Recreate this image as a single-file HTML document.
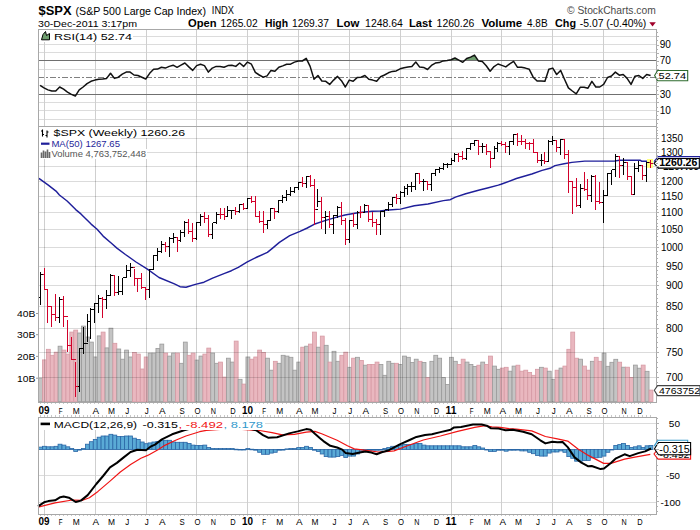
<!DOCTYPE html>
<html><head><meta charset="utf-8"><style>html,body{margin:0;padding:0;background:#fff;}svg{display:block;}</style></head><body>
<svg width="700" height="530" viewBox="0 0 700 530" font-family='"Liberation Sans", sans-serif'>
<rect x="0" y="0" width="700" height="530" fill="#fff"/>
<text x="38.5" y="15" font-size="13" font-weight="bold" fill="#000" text-anchor="start" textLength="33" lengthAdjust="spacingAndGlyphs">$SPX</text>
<text x="75.5" y="15" font-size="11" font-weight="normal" fill="#000" text-anchor="start" textLength="130.5" lengthAdjust="spacingAndGlyphs">(S&amp;P 500 Large Cap Index)</text>
<text x="211.8" y="13.8" font-size="10" font-weight="normal" fill="#000" text-anchor="start" textLength="22.2" lengthAdjust="spacingAndGlyphs">INDX</text>
<text x="38" y="27.2" font-size="9.6" font-weight="normal" fill="#000" text-anchor="start" textLength="99" lengthAdjust="spacingAndGlyphs">30-Dec-2011 3:17pm</text>
<text x="188" y="26.6" font-size="11" font-weight="bold" fill="#000" text-anchor="start" textLength="28.6" lengthAdjust="spacingAndGlyphs">Open</text>
<text x="220.6" y="26.5" font-size="10" font-weight="normal" fill="#000" text-anchor="start" textLength="37" lengthAdjust="spacingAndGlyphs">1265.02</text>
<text x="264.9" y="26.6" font-size="11" font-weight="bold" fill="#000" text-anchor="start" textLength="23.1" lengthAdjust="spacingAndGlyphs">High</text>
<text x="292" y="26.5" font-size="10" font-weight="normal" fill="#000" text-anchor="start" textLength="37" lengthAdjust="spacingAndGlyphs">1269.37</text>
<text x="336.6" y="26.6" font-size="11" font-weight="bold" fill="#000" text-anchor="start" textLength="22.8" lengthAdjust="spacingAndGlyphs">Low</text>
<text x="365.1" y="26.5" font-size="10" font-weight="normal" fill="#000" text-anchor="start" textLength="37.8" lengthAdjust="spacingAndGlyphs">1248.64</text>
<text x="409" y="26.6" font-size="11" font-weight="bold" fill="#000" text-anchor="start" textLength="23" lengthAdjust="spacingAndGlyphs">Last</text>
<text x="436.6" y="26.5" font-size="10" font-weight="normal" fill="#000" text-anchor="start" textLength="37.7" lengthAdjust="spacingAndGlyphs">1260.26</text>
<text x="481.4" y="26.6" font-size="11" font-weight="bold" fill="#000" text-anchor="start" textLength="40.9" lengthAdjust="spacingAndGlyphs">Volume</text>
<text x="527" y="26.5" font-size="10" font-weight="normal" fill="#000" text-anchor="start" textLength="20.6" lengthAdjust="spacingAndGlyphs">4.8B</text>
<text x="555" y="26.6" font-size="11" font-weight="bold" fill="#000" text-anchor="start" textLength="21" lengthAdjust="spacingAndGlyphs">Chg</text>
<text x="579.8" y="26.5" font-size="10" font-weight="normal" fill="#000" text-anchor="start" textLength="66.4" lengthAdjust="spacingAndGlyphs">-5.07 (-0.40%)</text>
<polygon points="649.3,22.2 655.8,22.2 652.55,26.4" fill="#A0002A"/>
<text x="567" y="14" font-size="10.5" font-weight="normal" fill="#4a4a4a" text-anchor="start" textLength="88.7" lengthAdjust="spacingAndGlyphs">© StockCharts.com</text>
<g shape-rendering="crispEdges">
<line x1="38" y1="36.5" x2="656" y2="36.5" stroke="#dcdcdc"/>
<line x1="38" y1="44.5" x2="656" y2="44.5" stroke="#dcdcdc"/>
<line x1="38" y1="52.5" x2="656" y2="52.5" stroke="#dcdcdc"/>
<line x1="38" y1="69.5" x2="656" y2="69.5" stroke="#dcdcdc"/>
<line x1="38" y1="85.5" x2="656" y2="85.5" stroke="#dcdcdc"/>
<line x1="38" y1="102.5" x2="656" y2="102.5" stroke="#dcdcdc"/>
<line x1="38" y1="110.5" x2="656" y2="110.5" stroke="#dcdcdc"/>
<line x1="38" y1="119.5" x2="656" y2="119.5" stroke="#dcdcdc"/>
<line x1="44.5" y1="29" x2="44.5" y2="126" stroke="#cfcfcf" stroke-width="1"/>
<line x1="95.5" y1="29" x2="95.5" y2="126" stroke="#cfcfcf" stroke-width="1"/>
<line x1="146.5" y1="29" x2="146.5" y2="126" stroke="#cfcfcf" stroke-width="1"/>
<line x1="196.5" y1="29" x2="196.5" y2="126" stroke="#cfcfcf" stroke-width="1"/>
<line x1="247.5" y1="29" x2="247.5" y2="126" stroke="#cfcfcf" stroke-width="1"/>
<line x1="298.5" y1="29" x2="298.5" y2="126" stroke="#cfcfcf" stroke-width="1"/>
<line x1="349.5" y1="29" x2="349.5" y2="126" stroke="#cfcfcf" stroke-width="1"/>
<line x1="400.5" y1="29" x2="400.5" y2="126" stroke="#cfcfcf" stroke-width="1"/>
<line x1="451.5" y1="29" x2="451.5" y2="126" stroke="#cfcfcf" stroke-width="1"/>
<line x1="501.5" y1="29" x2="501.5" y2="126" stroke="#cfcfcf" stroke-width="1"/>
<line x1="552.5" y1="29" x2="552.5" y2="126" stroke="#cfcfcf" stroke-width="1"/>
<line x1="603.5" y1="29" x2="603.5" y2="126" stroke="#cfcfcf" stroke-width="1"/>
<line x1="38" y1="60.5" x2="656" y2="60.5" stroke="#707070"/>
<line x1="38" y1="94.5" x2="656" y2="94.5" stroke="#707070"/>
<line x1="38" y1="77.5" x2="656" y2="77.5" stroke="#808080" stroke-dasharray="6,2,2,2"/>
</g>
<clipPath id="above70"><rect x="38" y="29" width="618" height="31"/></clipPath>
<polygon clip-path="url(#above70)" points="40.09,60.5 40.09,85.30 44.00,87.90 47.92,89.90 51.83,91.00 55.74,91.00 59.66,87.00 63.57,89.20 67.48,92.10 71.40,94.40 75.31,96.10 79.22,89.90 83.14,87.00 87.05,83.60 90.97,81.30 94.88,80.10 98.79,79.30 102.71,79.00 106.62,78.40 110.53,73.30 114.45,78.40 118.36,77.20 122.27,74.10 126.19,72.10 130.10,72.10 134.01,75.00 137.93,75.50 141.84,77.20 145.75,79.00 149.67,73.30 153.58,69.30 157.50,69.10 161.41,67.30 165.32,68.10 169.24,66.40 173.15,65.20 177.06,67.30 180.98,65.20 184.89,63.00 188.80,66.90 192.72,70.40 196.63,65.60 200.54,64.20 204.46,65.60 208.37,72.10 212.28,68.10 216.20,66.40 220.11,66.40 224.02,67.30 227.94,65.60 231.85,65.20 235.77,66.40 239.68,63.00 243.59,66.40 247.51,62.10 251.42,64.20 255.33,72.40 259.25,75.00 263.16,77.20 267.07,75.90 270.99,70.40 274.90,71.30 278.81,67.30 282.73,65.90 286.64,64.20 290.55,64.20 294.47,62.10 298.38,61.00 302.29,61.00 306.21,58.40 310.12,66.40 314.03,79.30 317.95,75.50 321.86,81.00 325.78,81.30 329.69,84.40 333.60,80.10 337.52,76.40 341.43,80.70 345.34,87.00 349.26,80.10 353.17,81.30 357.08,77.60 361.00,77.20 364.91,75.50 368.82,79.30 372.74,80.10 376.65,81.30 380.56,76.70 384.48,75.00 388.39,72.80 392.30,71.40 396.22,70.90 400.13,68.80 404.05,67.80 407.96,67.10 411.87,66.60 415.79,62.00 419.70,67.10 423.61,67.40 427.53,69.50 431.44,65.40 435.35,63.10 439.27,62.60 443.18,60.90 447.09,60.60 451.01,59.70 454.92,58.00 458.83,60.20 462.75,62.30 466.66,58.50 470.58,57.10 474.49,55.10 478.40,60.90 482.32,61.40 486.23,65.70 490.14,71.20 494.06,66.60 497.97,64.00 501.88,65.40 505.80,66.90 509.71,63.90 513.62,61.30 517.54,67.30 521.45,67.30 525.36,68.10 529.28,69.30 533.19,77.20 537.10,81.00 541.02,81.00 544.93,81.30 548.85,69.30 552.76,68.10 556.67,74.50 560.59,70.40 564.50,79.30 568.41,87.90 572.33,91.00 576.24,93.90 580.15,87.30 584.07,87.20 587.98,88.20 591.89,81.30 595.81,87.00 599.72,87.00 603.63,84.40 607.55,77.50 611.46,76.00 615.37,72.10 619.29,75.20 623.20,74.50 627.12,78.40 631.03,84.40 634.94,76.20 638.86,75.50 642.77,78.40 646.68,74.50 650.60,75.50 650.60,60.5" fill="#6f9f6f"/>
<polyline points="40.09,85.30 44.00,87.90 47.92,89.90 51.83,91.00 55.74,91.00 59.66,87.00 63.57,89.20 67.48,92.10 71.40,94.40 75.31,96.10 79.22,89.90 83.14,87.00 87.05,83.60 90.97,81.30 94.88,80.10 98.79,79.30 102.71,79.00 106.62,78.40 110.53,73.30 114.45,78.40 118.36,77.20 122.27,74.10 126.19,72.10 130.10,72.10 134.01,75.00 137.93,75.50 141.84,77.20 145.75,79.00 149.67,73.30 153.58,69.30 157.50,69.10 161.41,67.30 165.32,68.10 169.24,66.40 173.15,65.20 177.06,67.30 180.98,65.20 184.89,63.00 188.80,66.90 192.72,70.40 196.63,65.60 200.54,64.20 204.46,65.60 208.37,72.10 212.28,68.10 216.20,66.40 220.11,66.40 224.02,67.30 227.94,65.60 231.85,65.20 235.77,66.40 239.68,63.00 243.59,66.40 247.51,62.10 251.42,64.20 255.33,72.40 259.25,75.00 263.16,77.20 267.07,75.90 270.99,70.40 274.90,71.30 278.81,67.30 282.73,65.90 286.64,64.20 290.55,64.20 294.47,62.10 298.38,61.00 302.29,61.00 306.21,58.40 310.12,66.40 314.03,79.30 317.95,75.50 321.86,81.00 325.78,81.30 329.69,84.40 333.60,80.10 337.52,76.40 341.43,80.70 345.34,87.00 349.26,80.10 353.17,81.30 357.08,77.60 361.00,77.20 364.91,75.50 368.82,79.30 372.74,80.10 376.65,81.30 380.56,76.70 384.48,75.00 388.39,72.80 392.30,71.40 396.22,70.90 400.13,68.80 404.05,67.80 407.96,67.10 411.87,66.60 415.79,62.00 419.70,67.10 423.61,67.40 427.53,69.50 431.44,65.40 435.35,63.10 439.27,62.60 443.18,60.90 447.09,60.60 451.01,59.70 454.92,58.00 458.83,60.20 462.75,62.30 466.66,58.50 470.58,57.10 474.49,55.10 478.40,60.90 482.32,61.40 486.23,65.70 490.14,71.20 494.06,66.60 497.97,64.00 501.88,65.40 505.80,66.90 509.71,63.90 513.62,61.30 517.54,67.30 521.45,67.30 525.36,68.10 529.28,69.30 533.19,77.20 537.10,81.00 541.02,81.00 544.93,81.30 548.85,69.30 552.76,68.10 556.67,74.50 560.59,70.40 564.50,79.30 568.41,87.90 572.33,91.00 576.24,93.90 580.15,87.30 584.07,87.20 587.98,88.20 591.89,81.30 595.81,87.00 599.72,87.00 603.63,84.40 607.55,77.50 611.46,76.00 615.37,72.10 619.29,75.20 623.20,74.50 627.12,78.40 631.03,84.40 634.94,76.20 638.86,75.50 642.77,78.40 646.68,74.50 650.60,75.50" fill="none" stroke="#111" stroke-width="1.5" stroke-linejoin="round"/>
<g>
<rect x="38.54" y="378.10" width="3.9" height="23.40" fill="#c4c4c4" stroke="#9a9a9a" stroke-width="0.8"/>
<rect x="42.45" y="359.90" width="3.9" height="41.60" fill="#e9b7bf" stroke="#d69aa4" stroke-width="0.8"/>
<rect x="46.37" y="349.30" width="3.9" height="52.20" fill="#e9b7bf" stroke="#d69aa4" stroke-width="0.8"/>
<rect x="50.28" y="355.30" width="3.9" height="46.20" fill="#e9b7bf" stroke="#d69aa4" stroke-width="0.8"/>
<rect x="54.19" y="352.20" width="3.9" height="49.30" fill="#e9b7bf" stroke="#d69aa4" stroke-width="0.8"/>
<rect x="58.11" y="346.20" width="3.9" height="55.30" fill="#c4c4c4" stroke="#9a9a9a" stroke-width="0.8"/>
<rect x="62.02" y="350.10" width="3.9" height="51.40" fill="#e9b7bf" stroke="#d69aa4" stroke-width="0.8"/>
<rect x="65.93" y="354.10" width="3.9" height="47.40" fill="#e9b7bf" stroke="#d69aa4" stroke-width="0.8"/>
<rect x="69.85" y="332.10" width="3.9" height="69.40" fill="#e9b7bf" stroke="#d69aa4" stroke-width="0.8"/>
<rect x="73.76" y="330.10" width="3.9" height="71.40" fill="#e9b7bf" stroke="#d69aa4" stroke-width="0.8"/>
<rect x="77.67" y="333.00" width="3.9" height="68.50" fill="#c4c4c4" stroke="#9a9a9a" stroke-width="0.8"/>
<rect x="81.59" y="326.10" width="3.9" height="75.40" fill="#c4c4c4" stroke="#9a9a9a" stroke-width="0.8"/>
<rect x="85.50" y="337.00" width="3.9" height="64.50" fill="#c4c4c4" stroke="#9a9a9a" stroke-width="0.8"/>
<rect x="89.42" y="342.10" width="3.9" height="59.40" fill="#c4c4c4" stroke="#9a9a9a" stroke-width="0.8"/>
<rect x="93.33" y="357.00" width="3.9" height="44.50" fill="#c4c4c4" stroke="#9a9a9a" stroke-width="0.8"/>
<rect x="97.24" y="335.90" width="3.9" height="65.60" fill="#c4c4c4" stroke="#9a9a9a" stroke-width="0.8"/>
<rect x="101.16" y="332.10" width="3.9" height="69.40" fill="#e9b7bf" stroke="#d69aa4" stroke-width="0.8"/>
<rect x="105.07" y="347.90" width="3.9" height="53.60" fill="#c4c4c4" stroke="#9a9a9a" stroke-width="0.8"/>
<rect x="108.98" y="328.20" width="3.9" height="73.30" fill="#c4c4c4" stroke="#9a9a9a" stroke-width="0.8"/>
<rect x="112.90" y="343.30" width="3.9" height="58.20" fill="#e9b7bf" stroke="#d69aa4" stroke-width="0.8"/>
<rect x="116.81" y="349.00" width="3.9" height="52.50" fill="#c4c4c4" stroke="#9a9a9a" stroke-width="0.8"/>
<rect x="120.72" y="359.20" width="3.9" height="42.30" fill="#c4c4c4" stroke="#9a9a9a" stroke-width="0.8"/>
<rect x="124.64" y="350.10" width="3.9" height="51.40" fill="#c4c4c4" stroke="#9a9a9a" stroke-width="0.8"/>
<rect x="128.55" y="357.00" width="3.9" height="44.50" fill="#c4c4c4" stroke="#9a9a9a" stroke-width="0.8"/>
<rect x="132.46" y="352.40" width="3.9" height="49.10" fill="#e9b7bf" stroke="#d69aa4" stroke-width="0.8"/>
<rect x="136.38" y="354.10" width="3.9" height="47.40" fill="#e9b7bf" stroke="#d69aa4" stroke-width="0.8"/>
<rect x="140.29" y="369.00" width="3.9" height="32.50" fill="#e9b7bf" stroke="#d69aa4" stroke-width="0.8"/>
<rect x="144.20" y="357.00" width="3.9" height="44.50" fill="#e9b7bf" stroke="#d69aa4" stroke-width="0.8"/>
<rect x="148.12" y="353.10" width="3.9" height="48.40" fill="#c4c4c4" stroke="#9a9a9a" stroke-width="0.8"/>
<rect x="152.03" y="353.10" width="3.9" height="48.40" fill="#c4c4c4" stroke="#9a9a9a" stroke-width="0.8"/>
<rect x="155.94" y="348.40" width="3.9" height="53.10" fill="#c4c4c4" stroke="#9a9a9a" stroke-width="0.8"/>
<rect x="159.86" y="344.10" width="3.9" height="57.40" fill="#c4c4c4" stroke="#9a9a9a" stroke-width="0.8"/>
<rect x="163.77" y="353.10" width="3.9" height="48.40" fill="#e9b7bf" stroke="#d69aa4" stroke-width="0.8"/>
<rect x="167.69" y="356.10" width="3.9" height="45.40" fill="#c4c4c4" stroke="#9a9a9a" stroke-width="0.8"/>
<rect x="171.60" y="353.10" width="3.9" height="48.40" fill="#c4c4c4" stroke="#9a9a9a" stroke-width="0.8"/>
<rect x="175.51" y="353.10" width="3.9" height="48.40" fill="#e9b7bf" stroke="#d69aa4" stroke-width="0.8"/>
<rect x="179.43" y="363.30" width="3.9" height="38.20" fill="#c4c4c4" stroke="#9a9a9a" stroke-width="0.8"/>
<rect x="183.34" y="342.10" width="3.9" height="59.40" fill="#c4c4c4" stroke="#9a9a9a" stroke-width="0.8"/>
<rect x="187.25" y="355.30" width="3.9" height="46.20" fill="#e9b7bf" stroke="#d69aa4" stroke-width="0.8"/>
<rect x="191.17" y="353.10" width="3.9" height="48.40" fill="#e9b7bf" stroke="#d69aa4" stroke-width="0.8"/>
<rect x="195.08" y="360.10" width="3.9" height="41.40" fill="#c4c4c4" stroke="#9a9a9a" stroke-width="0.8"/>
<rect x="198.99" y="356.10" width="3.9" height="45.40" fill="#c4c4c4" stroke="#9a9a9a" stroke-width="0.8"/>
<rect x="202.91" y="354.10" width="3.9" height="47.40" fill="#e9b7bf" stroke="#d69aa4" stroke-width="0.8"/>
<rect x="206.82" y="348.10" width="3.9" height="53.40" fill="#e9b7bf" stroke="#d69aa4" stroke-width="0.8"/>
<rect x="210.73" y="353.10" width="3.9" height="48.40" fill="#c4c4c4" stroke="#9a9a9a" stroke-width="0.8"/>
<rect x="214.65" y="363.30" width="3.9" height="38.20" fill="#c4c4c4" stroke="#9a9a9a" stroke-width="0.8"/>
<rect x="218.56" y="362.10" width="3.9" height="39.40" fill="#e9b7bf" stroke="#d69aa4" stroke-width="0.8"/>
<rect x="222.47" y="377.10" width="3.9" height="24.40" fill="#e9b7bf" stroke="#d69aa4" stroke-width="0.8"/>
<rect x="226.39" y="358.20" width="3.9" height="43.30" fill="#c4c4c4" stroke="#9a9a9a" stroke-width="0.8"/>
<rect x="230.30" y="362.10" width="3.9" height="39.40" fill="#c4c4c4" stroke="#9a9a9a" stroke-width="0.8"/>
<rect x="234.22" y="341.10" width="3.9" height="60.40" fill="#e9b7bf" stroke="#d69aa4" stroke-width="0.8"/>
<rect x="238.13" y="379.30" width="3.9" height="22.20" fill="#c4c4c4" stroke="#9a9a9a" stroke-width="0.8"/>
<rect x="242.04" y="384.10" width="3.9" height="17.40" fill="#e9b7bf" stroke="#d69aa4" stroke-width="0.8"/>
<rect x="245.96" y="357.00" width="3.9" height="44.50" fill="#c4c4c4" stroke="#9a9a9a" stroke-width="0.8"/>
<rect x="249.87" y="359.20" width="3.9" height="42.30" fill="#e9b7bf" stroke="#d69aa4" stroke-width="0.8"/>
<rect x="253.78" y="357.00" width="3.9" height="44.50" fill="#e9b7bf" stroke="#d69aa4" stroke-width="0.8"/>
<rect x="257.70" y="350.10" width="3.9" height="51.40" fill="#e9b7bf" stroke="#d69aa4" stroke-width="0.8"/>
<rect x="261.61" y="352.40" width="3.9" height="49.10" fill="#e9b7bf" stroke="#d69aa4" stroke-width="0.8"/>
<rect x="265.52" y="358.20" width="3.9" height="43.30" fill="#c4c4c4" stroke="#9a9a9a" stroke-width="0.8"/>
<rect x="269.44" y="370.20" width="3.9" height="31.30" fill="#c4c4c4" stroke="#9a9a9a" stroke-width="0.8"/>
<rect x="273.35" y="361.30" width="3.9" height="40.20" fill="#e9b7bf" stroke="#d69aa4" stroke-width="0.8"/>
<rect x="277.26" y="363.30" width="3.9" height="38.20" fill="#c4c4c4" stroke="#9a9a9a" stroke-width="0.8"/>
<rect x="281.18" y="355.30" width="3.9" height="46.20" fill="#c4c4c4" stroke="#9a9a9a" stroke-width="0.8"/>
<rect x="285.09" y="356.10" width="3.9" height="45.40" fill="#c4c4c4" stroke="#9a9a9a" stroke-width="0.8"/>
<rect x="289.00" y="357.30" width="3.9" height="44.20" fill="#c4c4c4" stroke="#9a9a9a" stroke-width="0.8"/>
<rect x="292.92" y="370.20" width="3.9" height="31.30" fill="#c4c4c4" stroke="#9a9a9a" stroke-width="0.8"/>
<rect x="296.83" y="362.10" width="3.9" height="39.40" fill="#c4c4c4" stroke="#9a9a9a" stroke-width="0.8"/>
<rect x="300.74" y="347.20" width="3.9" height="54.30" fill="#e9b7bf" stroke="#d69aa4" stroke-width="0.8"/>
<rect x="304.66" y="346.20" width="3.9" height="55.30" fill="#c4c4c4" stroke="#9a9a9a" stroke-width="0.8"/>
<rect x="308.57" y="344.10" width="3.9" height="57.40" fill="#e9b7bf" stroke="#d69aa4" stroke-width="0.8"/>
<rect x="312.48" y="332.10" width="3.9" height="69.40" fill="#e9b7bf" stroke="#d69aa4" stroke-width="0.8"/>
<rect x="316.40" y="347.20" width="3.9" height="54.30" fill="#c4c4c4" stroke="#9a9a9a" stroke-width="0.8"/>
<rect x="320.31" y="336.10" width="3.9" height="65.40" fill="#e9b7bf" stroke="#d69aa4" stroke-width="0.8"/>
<rect x="324.23" y="345.30" width="3.9" height="56.20" fill="#c4c4c4" stroke="#9a9a9a" stroke-width="0.8"/>
<rect x="328.14" y="362.10" width="3.9" height="39.40" fill="#e9b7bf" stroke="#d69aa4" stroke-width="0.8"/>
<rect x="332.05" y="351.30" width="3.9" height="50.20" fill="#c4c4c4" stroke="#9a9a9a" stroke-width="0.8"/>
<rect x="335.97" y="361.30" width="3.9" height="40.20" fill="#c4c4c4" stroke="#9a9a9a" stroke-width="0.8"/>
<rect x="339.88" y="355.30" width="3.9" height="46.20" fill="#e9b7bf" stroke="#d69aa4" stroke-width="0.8"/>
<rect x="343.79" y="352.20" width="3.9" height="49.30" fill="#e9b7bf" stroke="#d69aa4" stroke-width="0.8"/>
<rect x="347.71" y="367.30" width="3.9" height="34.20" fill="#c4c4c4" stroke="#9a9a9a" stroke-width="0.8"/>
<rect x="351.62" y="358.20" width="3.9" height="43.30" fill="#e9b7bf" stroke="#d69aa4" stroke-width="0.8"/>
<rect x="355.53" y="357.30" width="3.9" height="44.20" fill="#c4c4c4" stroke="#9a9a9a" stroke-width="0.8"/>
<rect x="359.45" y="360.40" width="3.9" height="41.10" fill="#e9b7bf" stroke="#d69aa4" stroke-width="0.8"/>
<rect x="363.36" y="365.20" width="3.9" height="36.30" fill="#c4c4c4" stroke="#9a9a9a" stroke-width="0.8"/>
<rect x="367.27" y="364.40" width="3.9" height="37.10" fill="#e9b7bf" stroke="#d69aa4" stroke-width="0.8"/>
<rect x="371.19" y="364.40" width="3.9" height="37.10" fill="#e9b7bf" stroke="#d69aa4" stroke-width="0.8"/>
<rect x="375.10" y="362.10" width="3.9" height="39.40" fill="#e9b7bf" stroke="#d69aa4" stroke-width="0.8"/>
<rect x="379.01" y="364.40" width="3.9" height="37.10" fill="#c4c4c4" stroke="#9a9a9a" stroke-width="0.8"/>
<rect x="382.93" y="375.30" width="3.9" height="26.20" fill="#c4c4c4" stroke="#9a9a9a" stroke-width="0.8"/>
<rect x="386.84" y="361.30" width="3.9" height="40.20" fill="#c4c4c4" stroke="#9a9a9a" stroke-width="0.8"/>
<rect x="390.75" y="363.30" width="3.9" height="38.20" fill="#c4c4c4" stroke="#9a9a9a" stroke-width="0.8"/>
<rect x="394.67" y="363.30" width="3.9" height="38.20" fill="#e9b7bf" stroke="#d69aa4" stroke-width="0.8"/>
<rect x="398.58" y="364.40" width="3.9" height="37.10" fill="#c4c4c4" stroke="#9a9a9a" stroke-width="0.8"/>
<rect x="402.50" y="356.10" width="3.9" height="45.40" fill="#c4c4c4" stroke="#9a9a9a" stroke-width="0.8"/>
<rect x="406.41" y="357.30" width="3.9" height="44.20" fill="#c4c4c4" stroke="#9a9a9a" stroke-width="0.8"/>
<rect x="410.32" y="362.50" width="3.9" height="39.00" fill="#c4c4c4" stroke="#9a9a9a" stroke-width="0.8"/>
<rect x="414.24" y="359.20" width="3.9" height="42.30" fill="#c4c4c4" stroke="#9a9a9a" stroke-width="0.8"/>
<rect x="418.15" y="361.30" width="3.9" height="40.20" fill="#e9b7bf" stroke="#d69aa4" stroke-width="0.8"/>
<rect x="422.06" y="362.50" width="3.9" height="39.00" fill="#c4c4c4" stroke="#9a9a9a" stroke-width="0.8"/>
<rect x="425.98" y="377.60" width="3.9" height="23.90" fill="#e9b7bf" stroke="#d69aa4" stroke-width="0.8"/>
<rect x="429.89" y="361.30" width="3.9" height="40.20" fill="#c4c4c4" stroke="#9a9a9a" stroke-width="0.8"/>
<rect x="433.80" y="355.30" width="3.9" height="46.20" fill="#c4c4c4" stroke="#9a9a9a" stroke-width="0.8"/>
<rect x="437.72" y="358.20" width="3.9" height="43.30" fill="#c4c4c4" stroke="#9a9a9a" stroke-width="0.8"/>
<rect x="441.63" y="377.60" width="3.9" height="23.90" fill="#c4c4c4" stroke="#9a9a9a" stroke-width="0.8"/>
<rect x="445.54" y="384.40" width="3.9" height="17.10" fill="#c4c4c4" stroke="#9a9a9a" stroke-width="0.8"/>
<rect x="449.46" y="357.30" width="3.9" height="44.20" fill="#c4c4c4" stroke="#9a9a9a" stroke-width="0.8"/>
<rect x="453.37" y="361.30" width="3.9" height="40.20" fill="#c4c4c4" stroke="#9a9a9a" stroke-width="0.8"/>
<rect x="457.28" y="364.40" width="3.9" height="37.10" fill="#e9b7bf" stroke="#d69aa4" stroke-width="0.8"/>
<rect x="461.20" y="359.20" width="3.9" height="42.30" fill="#e9b7bf" stroke="#d69aa4" stroke-width="0.8"/>
<rect x="465.11" y="362.10" width="3.9" height="39.40" fill="#c4c4c4" stroke="#9a9a9a" stroke-width="0.8"/>
<rect x="469.03" y="364.40" width="3.9" height="37.10" fill="#c4c4c4" stroke="#9a9a9a" stroke-width="0.8"/>
<rect x="472.94" y="366.40" width="3.9" height="35.10" fill="#c4c4c4" stroke="#9a9a9a" stroke-width="0.8"/>
<rect x="476.85" y="365.20" width="3.9" height="36.30" fill="#e9b7bf" stroke="#d69aa4" stroke-width="0.8"/>
<rect x="480.77" y="362.10" width="3.9" height="39.40" fill="#c4c4c4" stroke="#9a9a9a" stroke-width="0.8"/>
<rect x="484.68" y="364.40" width="3.9" height="37.10" fill="#e9b7bf" stroke="#d69aa4" stroke-width="0.8"/>
<rect x="488.59" y="356.10" width="3.9" height="45.40" fill="#e9b7bf" stroke="#d69aa4" stroke-width="0.8"/>
<rect x="492.51" y="366.10" width="3.9" height="35.40" fill="#c4c4c4" stroke="#9a9a9a" stroke-width="0.8"/>
<rect x="496.42" y="369.30" width="3.9" height="32.20" fill="#c4c4c4" stroke="#9a9a9a" stroke-width="0.8"/>
<rect x="500.33" y="368.10" width="3.9" height="33.40" fill="#e9b7bf" stroke="#d69aa4" stroke-width="0.8"/>
<rect x="504.25" y="367.30" width="3.9" height="34.20" fill="#e9b7bf" stroke="#d69aa4" stroke-width="0.8"/>
<rect x="508.16" y="371.20" width="3.9" height="30.30" fill="#c4c4c4" stroke="#9a9a9a" stroke-width="0.8"/>
<rect x="512.07" y="366.10" width="3.9" height="35.40" fill="#c4c4c4" stroke="#9a9a9a" stroke-width="0.8"/>
<rect x="515.99" y="365.20" width="3.9" height="36.30" fill="#e9b7bf" stroke="#d69aa4" stroke-width="0.8"/>
<rect x="519.90" y="371.20" width="3.9" height="30.30" fill="#e9b7bf" stroke="#d69aa4" stroke-width="0.8"/>
<rect x="523.81" y="370.20" width="3.9" height="31.30" fill="#e9b7bf" stroke="#d69aa4" stroke-width="0.8"/>
<rect x="527.73" y="372.40" width="3.9" height="29.10" fill="#e9b7bf" stroke="#d69aa4" stroke-width="0.8"/>
<rect x="531.64" y="375.30" width="3.9" height="26.20" fill="#e9b7bf" stroke="#d69aa4" stroke-width="0.8"/>
<rect x="535.55" y="369.30" width="3.9" height="32.20" fill="#e9b7bf" stroke="#d69aa4" stroke-width="0.8"/>
<rect x="539.47" y="367.30" width="3.9" height="34.20" fill="#c4c4c4" stroke="#9a9a9a" stroke-width="0.8"/>
<rect x="543.38" y="368.10" width="3.9" height="33.40" fill="#e9b7bf" stroke="#d69aa4" stroke-width="0.8"/>
<rect x="547.30" y="371.20" width="3.9" height="30.30" fill="#c4c4c4" stroke="#9a9a9a" stroke-width="0.8"/>
<rect x="551.21" y="379.30" width="3.9" height="22.20" fill="#c4c4c4" stroke="#9a9a9a" stroke-width="0.8"/>
<rect x="555.12" y="370.20" width="3.9" height="31.30" fill="#e9b7bf" stroke="#d69aa4" stroke-width="0.8"/>
<rect x="559.04" y="368.10" width="3.9" height="33.40" fill="#c4c4c4" stroke="#9a9a9a" stroke-width="0.8"/>
<rect x="562.95" y="366.10" width="3.9" height="35.40" fill="#e9b7bf" stroke="#d69aa4" stroke-width="0.8"/>
<rect x="566.86" y="349.30" width="3.9" height="52.20" fill="#e9b7bf" stroke="#d69aa4" stroke-width="0.8"/>
<rect x="570.78" y="332.10" width="3.9" height="69.40" fill="#e9b7bf" stroke="#d69aa4" stroke-width="0.8"/>
<rect x="574.69" y="358.20" width="3.9" height="43.30" fill="#e9b7bf" stroke="#d69aa4" stroke-width="0.8"/>
<rect x="578.60" y="359.20" width="3.9" height="42.30" fill="#c4c4c4" stroke="#9a9a9a" stroke-width="0.8"/>
<rect x="582.52" y="366.10" width="3.9" height="35.40" fill="#e9b7bf" stroke="#d69aa4" stroke-width="0.8"/>
<rect x="586.43" y="370.20" width="3.9" height="31.30" fill="#e9b7bf" stroke="#d69aa4" stroke-width="0.8"/>
<rect x="590.34" y="361.30" width="3.9" height="40.20" fill="#c4c4c4" stroke="#9a9a9a" stroke-width="0.8"/>
<rect x="594.26" y="357.30" width="3.9" height="44.20" fill="#e9b7bf" stroke="#d69aa4" stroke-width="0.8"/>
<rect x="598.17" y="361.30" width="3.9" height="40.20" fill="#e9b7bf" stroke="#d69aa4" stroke-width="0.8"/>
<rect x="602.08" y="353.10" width="3.9" height="48.40" fill="#c4c4c4" stroke="#9a9a9a" stroke-width="0.8"/>
<rect x="606.00" y="366.30" width="3.9" height="35.20" fill="#c4c4c4" stroke="#9a9a9a" stroke-width="0.8"/>
<rect x="609.91" y="362.30" width="3.9" height="39.20" fill="#c4c4c4" stroke="#9a9a9a" stroke-width="0.8"/>
<rect x="613.82" y="359.30" width="3.9" height="42.20" fill="#c4c4c4" stroke="#9a9a9a" stroke-width="0.8"/>
<rect x="617.74" y="362.20" width="3.9" height="39.30" fill="#e9b7bf" stroke="#d69aa4" stroke-width="0.8"/>
<rect x="621.65" y="367.20" width="3.9" height="34.30" fill="#c4c4c4" stroke="#9a9a9a" stroke-width="0.8"/>
<rect x="625.57" y="367.20" width="3.9" height="34.30" fill="#e9b7bf" stroke="#d69aa4" stroke-width="0.8"/>
<rect x="629.48" y="377.40" width="3.9" height="24.10" fill="#e9b7bf" stroke="#d69aa4" stroke-width="0.8"/>
<rect x="633.39" y="365.10" width="3.9" height="36.40" fill="#c4c4c4" stroke="#9a9a9a" stroke-width="0.8"/>
<rect x="637.31" y="368.20" width="3.9" height="33.30" fill="#c4c4c4" stroke="#9a9a9a" stroke-width="0.8"/>
<rect x="641.22" y="365.10" width="3.9" height="36.40" fill="#e9b7bf" stroke="#d69aa4" stroke-width="0.8"/>
<rect x="645.13" y="371.30" width="3.9" height="30.20" fill="#c4c4c4" stroke="#9a9a9a" stroke-width="0.8"/>
<rect x="649.05" y="390.10" width="3.9" height="11.40" fill="#e9b7bf" stroke="#d69aa4" stroke-width="0.8"/>
</g>
<g shape-rendering="crispEdges">
<line x1="38" y1="377.5" x2="656" y2="377.5" stroke="#000" stroke-opacity="0.14"/>
<line x1="38" y1="352.5" x2="656" y2="352.5" stroke="#000" stroke-opacity="0.14"/>
<line x1="38" y1="328.5" x2="656" y2="328.5" stroke="#000" stroke-opacity="0.14"/>
<line x1="38" y1="306.5" x2="656" y2="306.5" stroke="#000" stroke-opacity="0.14"/>
<line x1="38" y1="285.5" x2="656" y2="285.5" stroke="#000" stroke-opacity="0.14"/>
<line x1="38" y1="266.5" x2="656" y2="266.5" stroke="#000" stroke-opacity="0.14"/>
<line x1="38" y1="247.5" x2="656" y2="247.5" stroke="#000" stroke-opacity="0.14"/>
<line x1="38" y1="229.5" x2="656" y2="229.5" stroke="#000" stroke-opacity="0.14"/>
<line x1="38" y1="212.5" x2="656" y2="212.5" stroke="#000" stroke-opacity="0.14"/>
<line x1="38" y1="196.5" x2="656" y2="196.5" stroke="#000" stroke-opacity="0.14"/>
<line x1="38" y1="181.5" x2="656" y2="181.5" stroke="#000" stroke-opacity="0.14"/>
<line x1="38" y1="166.5" x2="656" y2="166.5" stroke="#000" stroke-opacity="0.14"/>
<line x1="38" y1="152.5" x2="656" y2="152.5" stroke="#000" stroke-opacity="0.14"/>
<line x1="38" y1="138.5" x2="656" y2="138.5" stroke="#000" stroke-opacity="0.14"/>
<line x1="44.5" y1="126" x2="44.5" y2="402" stroke="#000" stroke-opacity="0.19"/>
<line x1="95.5" y1="126" x2="95.5" y2="402" stroke="#000" stroke-opacity="0.19"/>
<line x1="146.5" y1="126" x2="146.5" y2="402" stroke="#000" stroke-opacity="0.19"/>
<line x1="196.5" y1="126" x2="196.5" y2="402" stroke="#000" stroke-opacity="0.19"/>
<line x1="247.5" y1="126" x2="247.5" y2="402" stroke="#000" stroke-opacity="0.19"/>
<line x1="298.5" y1="126" x2="298.5" y2="402" stroke="#000" stroke-opacity="0.19"/>
<line x1="349.5" y1="126" x2="349.5" y2="402" stroke="#000" stroke-opacity="0.19"/>
<line x1="400.5" y1="126" x2="400.5" y2="402" stroke="#000" stroke-opacity="0.19"/>
<line x1="451.5" y1="126" x2="451.5" y2="402" stroke="#000" stroke-opacity="0.19"/>
<line x1="501.5" y1="126" x2="501.5" y2="402" stroke="#000" stroke-opacity="0.19"/>
<line x1="552.5" y1="126" x2="552.5" y2="402" stroke="#000" stroke-opacity="0.19"/>
<line x1="603.5" y1="126" x2="603.5" y2="402" stroke="#000" stroke-opacity="0.19"/>
</g>
<polyline points="38.90,178.40 48.30,185.20 56.00,191.10 59.40,195.00 67.10,201.00 75.70,209.60 80.90,213.90 91.10,224.10 97.10,229.30 103.10,236.10 111.70,243.50 116.90,248.10 125.40,254.50 136.00,262.00 147.40,269.10 159.00,277.50 174.40,283.90 180.00,286.70 186.00,287.30 195.40,284.40 204.00,282.20 212.60,278.10 224.60,273.30 231.40,270.70 238.30,267.30 246.90,262.10 257.10,257.00 267.40,252.40 272.60,248.10 279.40,242.40 289.70,235.60 300.00,231.30 307.30,228.00 314.10,224.30 325.70,220.40 338.60,216.60 345.00,215.00 357.80,212.70 372.00,211.20 380.00,211.00 388.60,210.00 400.60,209.10 414.30,205.70 428.00,204.00 443.40,200.60 450.30,199.70 455.40,197.10 465.70,193.70 479.40,190.00 487.50,188.00 498.30,185.10 501.00,184.30 516.40,178.50 531.80,174.00 542.10,170.40 550.00,168.30 555.00,165.60 564.10,163.70 571.90,162.40 584.70,161.10 614.30,161.10 619.40,160.20 640.00,160.20 641.50,161.20 650.90,161.20" fill="none" stroke="#1f1f9a" stroke-width="1.45" stroke-linejoin="round"/>
<rect x="647" y="159" width="6" height="8.8" fill="#ffff80"/>
<g shape-rendering="crispEdges">
<path d="M40.5,272.3V304.6M38.5,297.0H40.5M40.5,274.0H43.0" stroke="#000" stroke-width="1" fill="none"/>
<path d="M44.5,268.0V290.4M42.5,274.0H44.5M44.5,289.4H47.0" stroke="#d2002a" stroke-width="1" fill="none"/>
<path d="M47.5,289.4V322.9M45.5,289.4H47.5M47.5,306.4H50.0" stroke="#d2002a" stroke-width="1" fill="none"/>
<path d="M51.5,306.4V327.4M49.5,306.4H51.5M51.5,314.4H54.0" stroke="#d2002a" stroke-width="1" fill="none"/>
<path d="M55.5,294.0V320.6M53.5,314.4H55.5M55.5,317.3H58.0" stroke="#d2002a" stroke-width="1" fill="none"/>
<path d="M59.5,297.0V323.4M57.5,317.3H59.5M59.5,299.0H62.0" stroke="#000" stroke-width="1" fill="none"/>
<path d="M63.5,296.0V326.6M61.5,299.0H63.5M63.5,316.0H66.0" stroke="#d2002a" stroke-width="1" fill="none"/>
<path d="M67.5,320.0V351.9M65.5,316.0H67.5M67.5,345.0H70.0" stroke="#d2002a" stroke-width="1" fill="none"/>
<path d="M71.5,337.3V360.4M69.5,345.0H71.5M71.5,359.4H74.0" stroke="#d2002a" stroke-width="1" fill="none"/>
<path d="M75.5,362.3V397.0M73.5,359.4H75.5M75.5,386.9H78.0" stroke="#d2002a" stroke-width="1" fill="none"/>
<path d="M79.5,348.0V392.4M77.5,386.9H79.5M79.5,348.0H82.0" stroke="#000" stroke-width="1" fill="none"/>
<path d="M83.5,327.0V353.7M81.5,348.0H83.5M83.5,343.0H86.0" stroke="#000" stroke-width="1" fill="none"/>
<path d="M87.5,313.9V342.3M85.5,343.0H87.5M87.5,321.3H90.0" stroke="#000" stroke-width="1" fill="none"/>
<path d="M90.5,308.1V339.4M88.5,321.3H90.5M90.5,309.3H93.0" stroke="#000" stroke-width="1" fill="none"/>
<path d="M94.5,303.0V323.4M92.5,309.3H94.5M94.5,303.6H97.0" stroke="#000" stroke-width="1" fill="none"/>
<path d="M98.5,295.0V313.1M96.5,303.6H98.5M98.5,298.0H101.0" stroke="#000" stroke-width="1" fill="none"/>
<path d="M102.5,297.3V317.5M100.5,298.0H102.5M102.5,299.0H105.0" stroke="#d2002a" stroke-width="1" fill="none"/>
<path d="M106.5,290.3V308.7M104.5,299.0H106.5M106.5,295.5H109.0" stroke="#000" stroke-width="1" fill="none"/>
<path d="M110.5,273.6V295.2M108.5,295.5H110.5M110.5,275.0H113.0" stroke="#000" stroke-width="1" fill="none"/>
<path d="M114.5,276.2V295.8M112.5,275.0H114.5M114.5,292.3H117.0" stroke="#d2002a" stroke-width="1" fill="none"/>
<path d="M118.5,276.2V295.2M116.5,292.3H118.5M118.5,291.6H121.0" stroke="#000" stroke-width="1" fill="none"/>
<path d="M122.5,277.5V294.6M120.5,291.6H122.5M122.5,277.5H125.0" stroke="#000" stroke-width="1" fill="none"/>
<path d="M126.5,264.6V277.2M124.5,277.5H126.5M126.5,270.4H129.0" stroke="#000" stroke-width="1" fill="none"/>
<path d="M130.5,263.4V276.6M128.5,270.4H130.5M130.5,267.6H133.0" stroke="#000" stroke-width="1" fill="none"/>
<path d="M134.5,269.1V285.6M132.5,267.6H134.5M134.5,278.1H137.0" stroke="#d2002a" stroke-width="1" fill="none"/>
<path d="M137.5,277.5V291.7M135.5,278.1H137.5M137.5,278.5H140.0" stroke="#d2002a" stroke-width="1" fill="none"/>
<path d="M141.5,273.0V288.8M139.5,278.5H141.5M141.5,287.8H144.0" stroke="#d2002a" stroke-width="1" fill="none"/>
<path d="M145.5,286.5V299.7M143.5,287.8H145.5M145.5,289.0H148.0" stroke="#d2002a" stroke-width="1" fill="none"/>
<path d="M149.5,268.5V297.8M147.5,289.0H149.5M149.5,269.1H152.0" stroke="#000" stroke-width="1" fill="none"/>
<path d="M153.5,254.8V270.1M151.5,269.1H153.5M153.5,255.5H156.0" stroke="#000" stroke-width="1" fill="none"/>
<path d="M157.5,247.7V260.9M155.5,255.5H157.5M157.5,251.6H160.0" stroke="#000" stroke-width="1" fill="none"/>
<path d="M161.5,241.3V252.6M159.5,251.6H161.5M161.5,244.5H164.0" stroke="#000" stroke-width="1" fill="none"/>
<path d="M165.5,242.3V251.9M163.5,244.5H165.5M165.5,246.4H168.0" stroke="#d2002a" stroke-width="1" fill="none"/>
<path d="M169.5,237.4V256.7M167.5,246.4H169.5M169.5,238.1H172.0" stroke="#000" stroke-width="1" fill="none"/>
<path d="M173.5,233.3V242.5M171.5,238.1H173.5M173.5,237.5H176.0" stroke="#000" stroke-width="1" fill="none"/>
<path d="M177.5,237.4V251.9M175.5,237.5H177.5M177.5,240.0H180.0" stroke="#d2002a" stroke-width="1" fill="none"/>
<path d="M180.5,230.0V241.6M178.5,240.0H180.5M180.5,232.3H183.0" stroke="#000" stroke-width="1" fill="none"/>
<path d="M184.5,221.3V236.9M182.5,232.3H184.5M184.5,222.6H187.0" stroke="#000" stroke-width="1" fill="none"/>
<path d="M188.5,219.2V233.9M186.5,222.6H188.5M188.5,231.6H191.0" stroke="#d2002a" stroke-width="1" fill="none"/>
<path d="M192.5,223.3V241.6M190.5,231.6H192.5M192.5,238.1H195.0" stroke="#d2002a" stroke-width="1" fill="none"/>
<path d="M196.5,222.2V239.7M194.5,238.1H196.5M196.5,222.2H199.0" stroke="#000" stroke-width="1" fill="none"/>
<path d="M200.5,214.3V225.8M198.5,222.2H200.5M200.5,216.2H203.0" stroke="#000" stroke-width="1" fill="none"/>
<path d="M204.5,212.4V223.0M202.5,216.2H204.5M204.5,218.8H207.0" stroke="#d2002a" stroke-width="1" fill="none"/>
<path d="M208.5,215.3V236.9M206.5,218.8H208.5M208.5,234.8H211.0" stroke="#d2002a" stroke-width="1" fill="none"/>
<path d="M212.5,222.6V238.8M210.5,234.8H212.5M212.5,222.6H215.0" stroke="#000" stroke-width="1" fill="none"/>
<path d="M216.5,211.5V223.6M214.5,222.6H216.5M216.5,214.3H219.0" stroke="#000" stroke-width="1" fill="none"/>
<path d="M220.5,208.1V218.9M218.5,214.3H220.5M220.5,214.5H223.0" stroke="#d2002a" stroke-width="1" fill="none"/>
<path d="M224.5,208.1V219.8M222.5,214.5H224.5M224.5,216.9H227.0" stroke="#d2002a" stroke-width="1" fill="none"/>
<path d="M227.5,206.3V217.2M225.5,216.9H227.5M227.5,210.4H230.0" stroke="#000" stroke-width="1" fill="none"/>
<path d="M231.5,209.8V218.9M229.5,210.4H231.5M231.5,210.2H234.0" stroke="#000" stroke-width="1" fill="none"/>
<path d="M235.5,207.2V215.3M233.5,210.2H235.5M235.5,211.7H238.0" stroke="#d2002a" stroke-width="1" fill="none"/>
<path d="M239.5,204.3V212.7M237.5,211.7H239.5M239.5,204.3H242.0" stroke="#000" stroke-width="1" fill="none"/>
<path d="M243.5,202.9V209.7M241.5,204.3H243.5M243.5,208.0H246.0" stroke="#d2002a" stroke-width="1" fill="none"/>
<path d="M247.5,198.2V208.4M245.5,208.0H247.5M247.5,198.2H250.0" stroke="#000" stroke-width="1" fill="none"/>
<path d="M251.5,196.1V203.3M249.5,198.2H251.5M251.5,201.6H254.0" stroke="#d2002a" stroke-width="1" fill="none"/>
<path d="M255.5,196.1V217.2M253.5,201.6H255.5M255.5,216.2H258.0" stroke="#d2002a" stroke-width="1" fill="none"/>
<path d="M259.5,211.3V223.2M257.5,216.2H259.5M259.5,221.6H262.0" stroke="#d2002a" stroke-width="1" fill="none"/>
<path d="M263.5,211.0V232.6M261.5,221.6H263.5M263.5,224.4H266.0" stroke="#d2002a" stroke-width="1" fill="none"/>
<path d="M267.5,219.6V228.7M265.5,224.4H267.5M267.5,220.9H270.0" stroke="#000" stroke-width="1" fill="none"/>
<path d="M270.5,208.4V220.8M268.5,220.9H270.5M270.5,208.7H273.0" stroke="#000" stroke-width="1" fill="none"/>
<path d="M274.5,208.2V218.6M272.5,208.7H274.5M274.5,211.4H277.0" stroke="#d2002a" stroke-width="1" fill="none"/>
<path d="M278.5,200.1V213.0M276.5,211.4H278.5M278.5,200.1H281.0" stroke="#000" stroke-width="1" fill="none"/>
<path d="M282.5,195.0V202.8M280.5,200.1H282.5M282.5,197.3H285.0" stroke="#000" stroke-width="1" fill="none"/>
<path d="M286.5,190.2V200.8M284.5,197.3H286.5M286.5,194.4H289.0" stroke="#000" stroke-width="1" fill="none"/>
<path d="M290.5,187.0V196.3M288.5,194.4H290.5M290.5,191.1H293.0" stroke="#000" stroke-width="1" fill="none"/>
<path d="M294.5,187.0V192.5M292.5,191.1H294.5M294.5,187.6H297.0" stroke="#000" stroke-width="1" fill="none"/>
<path d="M298.5,182.1V189.5M296.5,187.6H298.5M298.5,182.9H301.0" stroke="#000" stroke-width="1" fill="none"/>
<path d="M302.5,177.0V186.7M300.5,182.9H302.5M302.5,183.1H305.0" stroke="#d2002a" stroke-width="1" fill="none"/>
<path d="M306.5,176.1V187.7M304.5,183.1H306.5M306.5,176.1H309.0" stroke="#000" stroke-width="1" fill="none"/>
<path d="M310.5,175.2V187.3M308.5,176.1H310.5M310.5,185.0H313.0" stroke="#d2002a" stroke-width="1" fill="none"/>
<path d="M314.5,179.3V225.3M312.5,185.0H314.5M314.5,209.0H317.0" stroke="#d2002a" stroke-width="1" fill="none"/>
<path d="M317.5,189.3V206.6M315.5,209.0H317.5M317.5,201.0H320.0" stroke="#000" stroke-width="1" fill="none"/>
<path d="M321.5,197.3V229.0M319.5,201.0H321.5M321.5,217.0H324.0" stroke="#d2002a" stroke-width="1" fill="none"/>
<path d="M325.5,211.2V234.3M323.5,217.0H325.5M325.5,216.8H328.0" stroke="#000" stroke-width="1" fill="none"/>
<path d="M329.5,211.2V227.6M327.5,216.8H329.5M329.5,224.8H332.0" stroke="#d2002a" stroke-width="1" fill="none"/>
<path d="M333.5,215.3V233.6M331.5,224.8H333.5M333.5,215.8H336.0" stroke="#000" stroke-width="1" fill="none"/>
<path d="M337.5,206.0V218.2M335.5,215.8H337.5M337.5,207.3H340.0" stroke="#000" stroke-width="1" fill="none"/>
<path d="M341.5,202.2V224.6M339.5,207.3H341.5M341.5,220.8H344.0" stroke="#d2002a" stroke-width="1" fill="none"/>
<path d="M345.5,217.8V244.6M343.5,220.8H345.5M345.5,239.6H348.0" stroke="#d2002a" stroke-width="1" fill="none"/>
<path d="M349.5,219.8V242.6M347.5,239.6H349.5M349.5,220.4H352.0" stroke="#000" stroke-width="1" fill="none"/>
<path d="M353.5,212.7V226.6M351.5,220.4H353.5M353.5,224.8H356.0" stroke="#d2002a" stroke-width="1" fill="none"/>
<path d="M357.5,211.2V228.9M355.5,224.8H357.5M357.5,212.1H360.0" stroke="#000" stroke-width="1" fill="none"/>
<path d="M360.5,206.3V217.8M358.5,212.1H360.5M360.5,212.4H363.0" stroke="#d2002a" stroke-width="1" fill="none"/>
<path d="M364.5,204.0V211.8M362.5,212.4H364.5M364.5,205.9H367.0" stroke="#000" stroke-width="1" fill="none"/>
<path d="M368.5,205.0V221.7M366.5,205.9H368.5M368.5,219.9H371.0" stroke="#d2002a" stroke-width="1" fill="none"/>
<path d="M372.5,211.7V226.6M370.5,219.9H372.5M372.5,222.5H375.0" stroke="#d2002a" stroke-width="1" fill="none"/>
<path d="M376.5,219.4V234.5M374.5,222.5H376.5M376.5,224.9H379.0" stroke="#d2002a" stroke-width="1" fill="none"/>
<path d="M380.5,211.4V234.5M378.5,224.9H380.5M380.5,211.5H383.0" stroke="#000" stroke-width="1" fill="none"/>
<path d="M384.5,209.5V216.5M382.5,211.5H384.5M384.5,209.8H387.0" stroke="#000" stroke-width="1" fill="none"/>
<path d="M388.5,202.3V211.1M386.5,209.8H388.5M388.5,204.6H391.0" stroke="#000" stroke-width="1" fill="none"/>
<path d="M392.5,196.8V206.6M390.5,204.6H392.5M392.5,197.2H395.0" stroke="#000" stroke-width="1" fill="none"/>
<path d="M396.5,194.0V204.0M394.5,197.2H396.5M396.5,198.0H399.0" stroke="#d2002a" stroke-width="1" fill="none"/>
<path d="M400.5,191.4V204.0M398.5,198.0H400.5M400.5,192.0H403.0" stroke="#000" stroke-width="1" fill="none"/>
<path d="M404.5,186.0V196.9M402.5,192.0H404.5M404.5,188.5H407.0" stroke="#000" stroke-width="1" fill="none"/>
<path d="M407.5,184.3V194.7M405.5,188.5H407.5M407.5,186.4H410.0" stroke="#000" stroke-width="1" fill="none"/>
<path d="M411.5,182.2V191.8M409.5,186.4H411.5M411.5,186.3H414.0" stroke="#000" stroke-width="1" fill="none"/>
<path d="M415.5,173.2V189.6M413.5,186.3H415.5M415.5,173.6H418.0" stroke="#000" stroke-width="1" fill="none"/>
<path d="M419.5,173.4V184.4M417.5,173.6H419.5M419.5,181.5H422.0" stroke="#d2002a" stroke-width="1" fill="none"/>
<path d="M423.5,179.2V190.5M421.5,181.5H423.5M423.5,181.4H426.0" stroke="#000" stroke-width="1" fill="none"/>
<path d="M427.5,181.1V189.6M425.5,181.4H427.5M427.5,184.5H430.0" stroke="#d2002a" stroke-width="1" fill="none"/>
<path d="M431.5,173.2V190.5M429.5,184.5H431.5M431.5,173.9H434.0" stroke="#000" stroke-width="1" fill="none"/>
<path d="M435.5,168.9V176.3M433.5,173.9H435.5M435.5,169.3H438.0" stroke="#000" stroke-width="1" fill="none"/>
<path d="M439.5,167.0V172.5M437.5,169.3H439.5M439.5,168.2H442.0" stroke="#000" stroke-width="1" fill="none"/>
<path d="M443.5,163.1V169.5M441.5,168.2H443.5M443.5,164.5H446.0" stroke="#000" stroke-width="1" fill="none"/>
<path d="M447.5,163.1V167.7M445.5,164.5H447.5M447.5,164.3H450.0" stroke="#000" stroke-width="1" fill="none"/>
<path d="M451.5,158.0V164.8M449.5,164.3H451.5M451.5,160.3H454.0" stroke="#000" stroke-width="1" fill="none"/>
<path d="M454.5,152.9V161.6M452.5,160.3H454.5M454.5,154.1H457.0" stroke="#000" stroke-width="1" fill="none"/>
<path d="M458.5,152.9V161.6M456.5,154.1H458.5M458.5,156.9H461.0" stroke="#d2002a" stroke-width="1" fill="none"/>
<path d="M462.5,151.3V160.3M460.5,156.9H462.5M462.5,158.9H465.0" stroke="#d2002a" stroke-width="1" fill="none"/>
<path d="M466.5,148.4V159.6M464.5,158.9H466.5M466.5,148.2H469.0" stroke="#000" stroke-width="1" fill="none"/>
<path d="M470.5,143.4V149.5M468.5,148.2H470.5M470.5,143.3H473.0" stroke="#000" stroke-width="1" fill="none"/>
<path d="M474.5,140.3V146.1M472.5,143.3H474.5M474.5,140.4H477.0" stroke="#000" stroke-width="1" fill="none"/>
<path d="M478.5,141.2V154.7M476.5,140.4H478.5M478.5,146.7H481.0" stroke="#d2002a" stroke-width="1" fill="none"/>
<path d="M482.5,143.4V152.9M480.5,146.7H482.5M482.5,146.4H485.0" stroke="#000" stroke-width="1" fill="none"/>
<path d="M486.5,144.2V155.4M484.5,146.4H486.5M486.5,151.0H489.0" stroke="#d2002a" stroke-width="1" fill="none"/>
<path d="M490.5,151.1V167.5M488.5,151.0H490.5M490.5,158.1H493.0" stroke="#d2002a" stroke-width="1" fill="none"/>
<path d="M494.5,146.3V158.5M492.5,158.1H494.5M494.5,148.5H497.0" stroke="#000" stroke-width="1" fill="none"/>
<path d="M497.5,141.6V151.6M495.5,148.5H497.5M497.5,143.3H500.0" stroke="#000" stroke-width="1" fill="none"/>
<path d="M501.5,141.2V146.1M499.5,143.3H501.5M501.5,144.4H504.0" stroke="#d2002a" stroke-width="1" fill="none"/>
<path d="M505.5,142.1V152.9M503.5,144.4H505.5M505.5,146.8H508.0" stroke="#d2002a" stroke-width="1" fill="none"/>
<path d="M509.5,141.2V154.7M507.5,146.8H509.5M509.5,141.9H512.0" stroke="#000" stroke-width="1" fill="none"/>
<path d="M513.5,134.1V144.8M511.5,141.9H513.5M513.5,134.9H516.0" stroke="#000" stroke-width="1" fill="none"/>
<path d="M517.5,133.1V145.7M515.5,134.9H517.5M517.5,141.2H520.0" stroke="#d2002a" stroke-width="1" fill="none"/>
<path d="M521.5,135.2V144.8M519.5,141.2H521.5M521.5,141.8H524.0" stroke="#d2002a" stroke-width="1" fill="none"/>
<path d="M525.5,139.0V148.6M523.5,141.8H525.5M525.5,143.0H528.0" stroke="#d2002a" stroke-width="1" fill="none"/>
<path d="M529.5,142.1V149.5M527.5,143.0H529.5M529.5,143.6H532.0" stroke="#d2002a" stroke-width="1" fill="none"/>
<path d="M533.5,139.0V153.4M531.5,143.6H533.5M533.5,152.2H536.0" stroke="#d2002a" stroke-width="1" fill="none"/>
<path d="M537.5,152.4V162.8M535.5,152.2H537.5M537.5,160.4H540.0" stroke="#d2002a" stroke-width="1" fill="none"/>
<path d="M541.5,154.1V165.7M539.5,160.4H541.5M541.5,160.3H544.0" stroke="#000" stroke-width="1" fill="none"/>
<path d="M544.5,152.1V163.7M542.5,160.3H544.5M544.5,161.1H547.0" stroke="#d2002a" stroke-width="1" fill="none"/>
<path d="M548.5,140.3V162.4M546.5,161.1H548.5M548.5,141.3H551.0" stroke="#000" stroke-width="1" fill="none"/>
<path d="M552.5,136.2V144.8M550.5,141.3H552.5M552.5,140.2H555.0" stroke="#000" stroke-width="1" fill="none"/>
<path d="M556.5,140.0V151.6M554.5,140.2H556.5M556.5,147.7H559.0" stroke="#d2002a" stroke-width="1" fill="none"/>
<path d="M560.5,139.3V154.8M558.5,147.7H560.5M560.5,139.8H563.0" stroke="#000" stroke-width="1" fill="none"/>
<path d="M564.5,140.0V158.6M562.5,139.8H564.5M564.5,154.4H567.0" stroke="#d2002a" stroke-width="1" fill="none"/>
<path d="M568.5,150.3V192.5M566.5,154.4H568.5M568.5,181.5H571.0" stroke="#d2002a" stroke-width="1" fill="none"/>
<path d="M572.5,181.2V213.5M570.5,181.5H572.5M572.5,187.5H575.0" stroke="#d2002a" stroke-width="1" fill="none"/>
<path d="M576.5,178.2V206.8M574.5,187.5H576.5M576.5,205.3H579.0" stroke="#d2002a" stroke-width="1" fill="none"/>
<path d="M580.5,184.3V207.5M578.5,205.3H580.5M580.5,188.4H583.0" stroke="#000" stroke-width="1" fill="none"/>
<path d="M584.5,172.2V191.2M582.5,188.4H584.5M584.5,189.3H587.0" stroke="#d2002a" stroke-width="1" fill="none"/>
<path d="M587.5,179.1V200.4M585.5,189.3H587.5M587.5,195.5H590.0" stroke="#d2002a" stroke-width="1" fill="none"/>
<path d="M591.5,175.2V202.4M589.5,195.5H591.5M591.5,176.5H594.0" stroke="#000" stroke-width="1" fill="none"/>
<path d="M595.5,175.2V209.7M593.5,176.5H595.5M595.5,201.0H598.0" stroke="#d2002a" stroke-width="1" fill="none"/>
<path d="M599.5,182.1V204.2M597.5,201.0H599.5M599.5,202.7H602.0" stroke="#d2002a" stroke-width="1" fill="none"/>
<path d="M603.5,190.2V222.5M601.5,202.7H603.5M603.5,195.1H606.0" stroke="#000" stroke-width="1" fill="none"/>
<path d="M607.5,173.4V195.5M605.5,195.1H607.5M607.5,173.9H610.0" stroke="#000" stroke-width="1" fill="none"/>
<path d="M611.5,169.6V184.7M609.5,173.9H611.5M611.5,169.9H614.0" stroke="#000" stroke-width="1" fill="none"/>
<path d="M615.5,154.2V176.6M613.5,169.9H615.5M615.5,156.4H618.0" stroke="#000" stroke-width="1" fill="none"/>
<path d="M619.5,156.4V177.5M617.5,156.4H619.5M619.5,165.5H622.0" stroke="#d2002a" stroke-width="1" fill="none"/>
<path d="M623.5,158.0V174.7M621.5,165.5H623.5M623.5,162.4H626.0" stroke="#000" stroke-width="1" fill="none"/>
<path d="M627.5,162.4V179.6M625.5,162.4H627.5M627.5,176.6H630.0" stroke="#d2002a" stroke-width="1" fill="none"/>
<path d="M631.5,176.3V195.3M629.5,176.6H631.5M631.5,194.1H634.0" stroke="#d2002a" stroke-width="1" fill="none"/>
<path d="M634.5,163.2V195.3M632.5,194.1H634.5M634.5,168.2H637.0" stroke="#000" stroke-width="1" fill="none"/>
<path d="M638.5,160.6V172.4M636.5,168.2H638.5M638.5,165.0H641.0" stroke="#000" stroke-width="1" fill="none"/>
<path d="M642.5,165.1V179.5M640.5,165.0H642.5M642.5,175.4H645.0" stroke="#d2002a" stroke-width="1" fill="none"/>
<path d="M646.5,162.2V181.6M644.5,175.4H646.5M646.5,162.0H649.0" stroke="#000" stroke-width="1" fill="none"/>
<path d="M650.5,160.4V167.9M648.5,162.0H650.5M650.5,163.4H653.0" stroke="#d2002a" stroke-width="1" fill="none"/>
</g>
<g shape-rendering="crispEdges">
<line x1="40.5" y1="402" x2="40.5" y2="404" stroke="#c8c8c8"/>
<line x1="40.5" y1="415" x2="40.5" y2="417" stroke="#c8c8c8"/>
<line x1="40.5" y1="514" x2="40.5" y2="516" stroke="#c8c8c8"/>
<line x1="44.5" y1="402" x2="44.5" y2="404" stroke="#c8c8c8"/>
<line x1="44.5" y1="415" x2="44.5" y2="417" stroke="#c8c8c8"/>
<line x1="44.5" y1="514" x2="44.5" y2="516" stroke="#c8c8c8"/>
<line x1="47.5" y1="402" x2="47.5" y2="404" stroke="#c8c8c8"/>
<line x1="47.5" y1="415" x2="47.5" y2="417" stroke="#c8c8c8"/>
<line x1="47.5" y1="514" x2="47.5" y2="516" stroke="#c8c8c8"/>
<line x1="51.5" y1="402" x2="51.5" y2="404" stroke="#c8c8c8"/>
<line x1="51.5" y1="415" x2="51.5" y2="417" stroke="#c8c8c8"/>
<line x1="51.5" y1="514" x2="51.5" y2="516" stroke="#c8c8c8"/>
<line x1="55.5" y1="402" x2="55.5" y2="404" stroke="#c8c8c8"/>
<line x1="55.5" y1="415" x2="55.5" y2="417" stroke="#c8c8c8"/>
<line x1="55.5" y1="514" x2="55.5" y2="516" stroke="#c8c8c8"/>
<line x1="59.5" y1="402" x2="59.5" y2="404" stroke="#c8c8c8"/>
<line x1="59.5" y1="415" x2="59.5" y2="417" stroke="#c8c8c8"/>
<line x1="59.5" y1="514" x2="59.5" y2="516" stroke="#c8c8c8"/>
<line x1="63.5" y1="402" x2="63.5" y2="404" stroke="#c8c8c8"/>
<line x1="63.5" y1="415" x2="63.5" y2="417" stroke="#c8c8c8"/>
<line x1="63.5" y1="514" x2="63.5" y2="516" stroke="#c8c8c8"/>
<line x1="67.5" y1="402" x2="67.5" y2="404" stroke="#c8c8c8"/>
<line x1="67.5" y1="415" x2="67.5" y2="417" stroke="#c8c8c8"/>
<line x1="67.5" y1="514" x2="67.5" y2="516" stroke="#c8c8c8"/>
<line x1="71.5" y1="402" x2="71.5" y2="404" stroke="#c8c8c8"/>
<line x1="71.5" y1="415" x2="71.5" y2="417" stroke="#c8c8c8"/>
<line x1="71.5" y1="514" x2="71.5" y2="516" stroke="#c8c8c8"/>
<line x1="75.5" y1="402" x2="75.5" y2="404" stroke="#c8c8c8"/>
<line x1="75.5" y1="415" x2="75.5" y2="417" stroke="#c8c8c8"/>
<line x1="75.5" y1="514" x2="75.5" y2="516" stroke="#c8c8c8"/>
<line x1="79.5" y1="402" x2="79.5" y2="404" stroke="#c8c8c8"/>
<line x1="79.5" y1="415" x2="79.5" y2="417" stroke="#c8c8c8"/>
<line x1="79.5" y1="514" x2="79.5" y2="516" stroke="#c8c8c8"/>
<line x1="83.5" y1="402" x2="83.5" y2="404" stroke="#c8c8c8"/>
<line x1="83.5" y1="415" x2="83.5" y2="417" stroke="#c8c8c8"/>
<line x1="83.5" y1="514" x2="83.5" y2="516" stroke="#c8c8c8"/>
<line x1="87.5" y1="402" x2="87.5" y2="404" stroke="#c8c8c8"/>
<line x1="87.5" y1="415" x2="87.5" y2="417" stroke="#c8c8c8"/>
<line x1="87.5" y1="514" x2="87.5" y2="516" stroke="#c8c8c8"/>
<line x1="90.5" y1="402" x2="90.5" y2="404" stroke="#c8c8c8"/>
<line x1="90.5" y1="415" x2="90.5" y2="417" stroke="#c8c8c8"/>
<line x1="90.5" y1="514" x2="90.5" y2="516" stroke="#c8c8c8"/>
<line x1="94.5" y1="402" x2="94.5" y2="404" stroke="#c8c8c8"/>
<line x1="94.5" y1="415" x2="94.5" y2="417" stroke="#c8c8c8"/>
<line x1="94.5" y1="514" x2="94.5" y2="516" stroke="#c8c8c8"/>
<line x1="98.5" y1="402" x2="98.5" y2="404" stroke="#c8c8c8"/>
<line x1="98.5" y1="415" x2="98.5" y2="417" stroke="#c8c8c8"/>
<line x1="98.5" y1="514" x2="98.5" y2="516" stroke="#c8c8c8"/>
<line x1="102.5" y1="402" x2="102.5" y2="404" stroke="#c8c8c8"/>
<line x1="102.5" y1="415" x2="102.5" y2="417" stroke="#c8c8c8"/>
<line x1="102.5" y1="514" x2="102.5" y2="516" stroke="#c8c8c8"/>
<line x1="106.5" y1="402" x2="106.5" y2="404" stroke="#c8c8c8"/>
<line x1="106.5" y1="415" x2="106.5" y2="417" stroke="#c8c8c8"/>
<line x1="106.5" y1="514" x2="106.5" y2="516" stroke="#c8c8c8"/>
<line x1="110.5" y1="402" x2="110.5" y2="404" stroke="#c8c8c8"/>
<line x1="110.5" y1="415" x2="110.5" y2="417" stroke="#c8c8c8"/>
<line x1="110.5" y1="514" x2="110.5" y2="516" stroke="#c8c8c8"/>
<line x1="114.5" y1="402" x2="114.5" y2="404" stroke="#c8c8c8"/>
<line x1="114.5" y1="415" x2="114.5" y2="417" stroke="#c8c8c8"/>
<line x1="114.5" y1="514" x2="114.5" y2="516" stroke="#c8c8c8"/>
<line x1="118.5" y1="402" x2="118.5" y2="404" stroke="#c8c8c8"/>
<line x1="118.5" y1="415" x2="118.5" y2="417" stroke="#c8c8c8"/>
<line x1="118.5" y1="514" x2="118.5" y2="516" stroke="#c8c8c8"/>
<line x1="122.5" y1="402" x2="122.5" y2="404" stroke="#c8c8c8"/>
<line x1="122.5" y1="415" x2="122.5" y2="417" stroke="#c8c8c8"/>
<line x1="122.5" y1="514" x2="122.5" y2="516" stroke="#c8c8c8"/>
<line x1="126.5" y1="402" x2="126.5" y2="404" stroke="#c8c8c8"/>
<line x1="126.5" y1="415" x2="126.5" y2="417" stroke="#c8c8c8"/>
<line x1="126.5" y1="514" x2="126.5" y2="516" stroke="#c8c8c8"/>
<line x1="130.5" y1="402" x2="130.5" y2="404" stroke="#c8c8c8"/>
<line x1="130.5" y1="415" x2="130.5" y2="417" stroke="#c8c8c8"/>
<line x1="130.5" y1="514" x2="130.5" y2="516" stroke="#c8c8c8"/>
<line x1="134.5" y1="402" x2="134.5" y2="404" stroke="#c8c8c8"/>
<line x1="134.5" y1="415" x2="134.5" y2="417" stroke="#c8c8c8"/>
<line x1="134.5" y1="514" x2="134.5" y2="516" stroke="#c8c8c8"/>
<line x1="137.5" y1="402" x2="137.5" y2="404" stroke="#c8c8c8"/>
<line x1="137.5" y1="415" x2="137.5" y2="417" stroke="#c8c8c8"/>
<line x1="137.5" y1="514" x2="137.5" y2="516" stroke="#c8c8c8"/>
<line x1="141.5" y1="402" x2="141.5" y2="404" stroke="#c8c8c8"/>
<line x1="141.5" y1="415" x2="141.5" y2="417" stroke="#c8c8c8"/>
<line x1="141.5" y1="514" x2="141.5" y2="516" stroke="#c8c8c8"/>
<line x1="145.5" y1="402" x2="145.5" y2="404" stroke="#c8c8c8"/>
<line x1="145.5" y1="415" x2="145.5" y2="417" stroke="#c8c8c8"/>
<line x1="145.5" y1="514" x2="145.5" y2="516" stroke="#c8c8c8"/>
<line x1="149.5" y1="402" x2="149.5" y2="404" stroke="#c8c8c8"/>
<line x1="149.5" y1="415" x2="149.5" y2="417" stroke="#c8c8c8"/>
<line x1="149.5" y1="514" x2="149.5" y2="516" stroke="#c8c8c8"/>
<line x1="153.5" y1="402" x2="153.5" y2="404" stroke="#c8c8c8"/>
<line x1="153.5" y1="415" x2="153.5" y2="417" stroke="#c8c8c8"/>
<line x1="153.5" y1="514" x2="153.5" y2="516" stroke="#c8c8c8"/>
<line x1="157.5" y1="402" x2="157.5" y2="404" stroke="#c8c8c8"/>
<line x1="157.5" y1="415" x2="157.5" y2="417" stroke="#c8c8c8"/>
<line x1="157.5" y1="514" x2="157.5" y2="516" stroke="#c8c8c8"/>
<line x1="161.5" y1="402" x2="161.5" y2="404" stroke="#c8c8c8"/>
<line x1="161.5" y1="415" x2="161.5" y2="417" stroke="#c8c8c8"/>
<line x1="161.5" y1="514" x2="161.5" y2="516" stroke="#c8c8c8"/>
<line x1="165.5" y1="402" x2="165.5" y2="404" stroke="#c8c8c8"/>
<line x1="165.5" y1="415" x2="165.5" y2="417" stroke="#c8c8c8"/>
<line x1="165.5" y1="514" x2="165.5" y2="516" stroke="#c8c8c8"/>
<line x1="169.5" y1="402" x2="169.5" y2="404" stroke="#c8c8c8"/>
<line x1="169.5" y1="415" x2="169.5" y2="417" stroke="#c8c8c8"/>
<line x1="169.5" y1="514" x2="169.5" y2="516" stroke="#c8c8c8"/>
<line x1="173.5" y1="402" x2="173.5" y2="404" stroke="#c8c8c8"/>
<line x1="173.5" y1="415" x2="173.5" y2="417" stroke="#c8c8c8"/>
<line x1="173.5" y1="514" x2="173.5" y2="516" stroke="#c8c8c8"/>
<line x1="177.5" y1="402" x2="177.5" y2="404" stroke="#c8c8c8"/>
<line x1="177.5" y1="415" x2="177.5" y2="417" stroke="#c8c8c8"/>
<line x1="177.5" y1="514" x2="177.5" y2="516" stroke="#c8c8c8"/>
<line x1="180.5" y1="402" x2="180.5" y2="404" stroke="#c8c8c8"/>
<line x1="180.5" y1="415" x2="180.5" y2="417" stroke="#c8c8c8"/>
<line x1="180.5" y1="514" x2="180.5" y2="516" stroke="#c8c8c8"/>
<line x1="184.5" y1="402" x2="184.5" y2="404" stroke="#c8c8c8"/>
<line x1="184.5" y1="415" x2="184.5" y2="417" stroke="#c8c8c8"/>
<line x1="184.5" y1="514" x2="184.5" y2="516" stroke="#c8c8c8"/>
<line x1="188.5" y1="402" x2="188.5" y2="404" stroke="#c8c8c8"/>
<line x1="188.5" y1="415" x2="188.5" y2="417" stroke="#c8c8c8"/>
<line x1="188.5" y1="514" x2="188.5" y2="516" stroke="#c8c8c8"/>
<line x1="192.5" y1="402" x2="192.5" y2="404" stroke="#c8c8c8"/>
<line x1="192.5" y1="415" x2="192.5" y2="417" stroke="#c8c8c8"/>
<line x1="192.5" y1="514" x2="192.5" y2="516" stroke="#c8c8c8"/>
<line x1="196.5" y1="402" x2="196.5" y2="404" stroke="#c8c8c8"/>
<line x1="196.5" y1="415" x2="196.5" y2="417" stroke="#c8c8c8"/>
<line x1="196.5" y1="514" x2="196.5" y2="516" stroke="#c8c8c8"/>
<line x1="200.5" y1="402" x2="200.5" y2="404" stroke="#c8c8c8"/>
<line x1="200.5" y1="415" x2="200.5" y2="417" stroke="#c8c8c8"/>
<line x1="200.5" y1="514" x2="200.5" y2="516" stroke="#c8c8c8"/>
<line x1="204.5" y1="402" x2="204.5" y2="404" stroke="#c8c8c8"/>
<line x1="204.5" y1="415" x2="204.5" y2="417" stroke="#c8c8c8"/>
<line x1="204.5" y1="514" x2="204.5" y2="516" stroke="#c8c8c8"/>
<line x1="208.5" y1="402" x2="208.5" y2="404" stroke="#c8c8c8"/>
<line x1="208.5" y1="415" x2="208.5" y2="417" stroke="#c8c8c8"/>
<line x1="208.5" y1="514" x2="208.5" y2="516" stroke="#c8c8c8"/>
<line x1="212.5" y1="402" x2="212.5" y2="404" stroke="#c8c8c8"/>
<line x1="212.5" y1="415" x2="212.5" y2="417" stroke="#c8c8c8"/>
<line x1="212.5" y1="514" x2="212.5" y2="516" stroke="#c8c8c8"/>
<line x1="216.5" y1="402" x2="216.5" y2="404" stroke="#c8c8c8"/>
<line x1="216.5" y1="415" x2="216.5" y2="417" stroke="#c8c8c8"/>
<line x1="216.5" y1="514" x2="216.5" y2="516" stroke="#c8c8c8"/>
<line x1="220.5" y1="402" x2="220.5" y2="404" stroke="#c8c8c8"/>
<line x1="220.5" y1="415" x2="220.5" y2="417" stroke="#c8c8c8"/>
<line x1="220.5" y1="514" x2="220.5" y2="516" stroke="#c8c8c8"/>
<line x1="224.5" y1="402" x2="224.5" y2="404" stroke="#c8c8c8"/>
<line x1="224.5" y1="415" x2="224.5" y2="417" stroke="#c8c8c8"/>
<line x1="224.5" y1="514" x2="224.5" y2="516" stroke="#c8c8c8"/>
<line x1="227.5" y1="402" x2="227.5" y2="404" stroke="#c8c8c8"/>
<line x1="227.5" y1="415" x2="227.5" y2="417" stroke="#c8c8c8"/>
<line x1="227.5" y1="514" x2="227.5" y2="516" stroke="#c8c8c8"/>
<line x1="231.5" y1="402" x2="231.5" y2="404" stroke="#c8c8c8"/>
<line x1="231.5" y1="415" x2="231.5" y2="417" stroke="#c8c8c8"/>
<line x1="231.5" y1="514" x2="231.5" y2="516" stroke="#c8c8c8"/>
<line x1="235.5" y1="402" x2="235.5" y2="404" stroke="#c8c8c8"/>
<line x1="235.5" y1="415" x2="235.5" y2="417" stroke="#c8c8c8"/>
<line x1="235.5" y1="514" x2="235.5" y2="516" stroke="#c8c8c8"/>
<line x1="239.5" y1="402" x2="239.5" y2="404" stroke="#c8c8c8"/>
<line x1="239.5" y1="415" x2="239.5" y2="417" stroke="#c8c8c8"/>
<line x1="239.5" y1="514" x2="239.5" y2="516" stroke="#c8c8c8"/>
<line x1="243.5" y1="402" x2="243.5" y2="404" stroke="#c8c8c8"/>
<line x1="243.5" y1="415" x2="243.5" y2="417" stroke="#c8c8c8"/>
<line x1="243.5" y1="514" x2="243.5" y2="516" stroke="#c8c8c8"/>
<line x1="247.5" y1="402" x2="247.5" y2="404" stroke="#c8c8c8"/>
<line x1="247.5" y1="415" x2="247.5" y2="417" stroke="#c8c8c8"/>
<line x1="247.5" y1="514" x2="247.5" y2="516" stroke="#c8c8c8"/>
<line x1="251.5" y1="402" x2="251.5" y2="404" stroke="#c8c8c8"/>
<line x1="251.5" y1="415" x2="251.5" y2="417" stroke="#c8c8c8"/>
<line x1="251.5" y1="514" x2="251.5" y2="516" stroke="#c8c8c8"/>
<line x1="255.5" y1="402" x2="255.5" y2="404" stroke="#c8c8c8"/>
<line x1="255.5" y1="415" x2="255.5" y2="417" stroke="#c8c8c8"/>
<line x1="255.5" y1="514" x2="255.5" y2="516" stroke="#c8c8c8"/>
<line x1="259.5" y1="402" x2="259.5" y2="404" stroke="#c8c8c8"/>
<line x1="259.5" y1="415" x2="259.5" y2="417" stroke="#c8c8c8"/>
<line x1="259.5" y1="514" x2="259.5" y2="516" stroke="#c8c8c8"/>
<line x1="263.5" y1="402" x2="263.5" y2="404" stroke="#c8c8c8"/>
<line x1="263.5" y1="415" x2="263.5" y2="417" stroke="#c8c8c8"/>
<line x1="263.5" y1="514" x2="263.5" y2="516" stroke="#c8c8c8"/>
<line x1="267.5" y1="402" x2="267.5" y2="404" stroke="#c8c8c8"/>
<line x1="267.5" y1="415" x2="267.5" y2="417" stroke="#c8c8c8"/>
<line x1="267.5" y1="514" x2="267.5" y2="516" stroke="#c8c8c8"/>
<line x1="270.5" y1="402" x2="270.5" y2="404" stroke="#c8c8c8"/>
<line x1="270.5" y1="415" x2="270.5" y2="417" stroke="#c8c8c8"/>
<line x1="270.5" y1="514" x2="270.5" y2="516" stroke="#c8c8c8"/>
<line x1="274.5" y1="402" x2="274.5" y2="404" stroke="#c8c8c8"/>
<line x1="274.5" y1="415" x2="274.5" y2="417" stroke="#c8c8c8"/>
<line x1="274.5" y1="514" x2="274.5" y2="516" stroke="#c8c8c8"/>
<line x1="278.5" y1="402" x2="278.5" y2="404" stroke="#c8c8c8"/>
<line x1="278.5" y1="415" x2="278.5" y2="417" stroke="#c8c8c8"/>
<line x1="278.5" y1="514" x2="278.5" y2="516" stroke="#c8c8c8"/>
<line x1="282.5" y1="402" x2="282.5" y2="404" stroke="#c8c8c8"/>
<line x1="282.5" y1="415" x2="282.5" y2="417" stroke="#c8c8c8"/>
<line x1="282.5" y1="514" x2="282.5" y2="516" stroke="#c8c8c8"/>
<line x1="286.5" y1="402" x2="286.5" y2="404" stroke="#c8c8c8"/>
<line x1="286.5" y1="415" x2="286.5" y2="417" stroke="#c8c8c8"/>
<line x1="286.5" y1="514" x2="286.5" y2="516" stroke="#c8c8c8"/>
<line x1="290.5" y1="402" x2="290.5" y2="404" stroke="#c8c8c8"/>
<line x1="290.5" y1="415" x2="290.5" y2="417" stroke="#c8c8c8"/>
<line x1="290.5" y1="514" x2="290.5" y2="516" stroke="#c8c8c8"/>
<line x1="294.5" y1="402" x2="294.5" y2="404" stroke="#c8c8c8"/>
<line x1="294.5" y1="415" x2="294.5" y2="417" stroke="#c8c8c8"/>
<line x1="294.5" y1="514" x2="294.5" y2="516" stroke="#c8c8c8"/>
<line x1="298.5" y1="402" x2="298.5" y2="404" stroke="#c8c8c8"/>
<line x1="298.5" y1="415" x2="298.5" y2="417" stroke="#c8c8c8"/>
<line x1="298.5" y1="514" x2="298.5" y2="516" stroke="#c8c8c8"/>
<line x1="302.5" y1="402" x2="302.5" y2="404" stroke="#c8c8c8"/>
<line x1="302.5" y1="415" x2="302.5" y2="417" stroke="#c8c8c8"/>
<line x1="302.5" y1="514" x2="302.5" y2="516" stroke="#c8c8c8"/>
<line x1="306.5" y1="402" x2="306.5" y2="404" stroke="#c8c8c8"/>
<line x1="306.5" y1="415" x2="306.5" y2="417" stroke="#c8c8c8"/>
<line x1="306.5" y1="514" x2="306.5" y2="516" stroke="#c8c8c8"/>
<line x1="310.5" y1="402" x2="310.5" y2="404" stroke="#c8c8c8"/>
<line x1="310.5" y1="415" x2="310.5" y2="417" stroke="#c8c8c8"/>
<line x1="310.5" y1="514" x2="310.5" y2="516" stroke="#c8c8c8"/>
<line x1="314.5" y1="402" x2="314.5" y2="404" stroke="#c8c8c8"/>
<line x1="314.5" y1="415" x2="314.5" y2="417" stroke="#c8c8c8"/>
<line x1="314.5" y1="514" x2="314.5" y2="516" stroke="#c8c8c8"/>
<line x1="317.5" y1="402" x2="317.5" y2="404" stroke="#c8c8c8"/>
<line x1="317.5" y1="415" x2="317.5" y2="417" stroke="#c8c8c8"/>
<line x1="317.5" y1="514" x2="317.5" y2="516" stroke="#c8c8c8"/>
<line x1="321.5" y1="402" x2="321.5" y2="404" stroke="#c8c8c8"/>
<line x1="321.5" y1="415" x2="321.5" y2="417" stroke="#c8c8c8"/>
<line x1="321.5" y1="514" x2="321.5" y2="516" stroke="#c8c8c8"/>
<line x1="325.5" y1="402" x2="325.5" y2="404" stroke="#c8c8c8"/>
<line x1="325.5" y1="415" x2="325.5" y2="417" stroke="#c8c8c8"/>
<line x1="325.5" y1="514" x2="325.5" y2="516" stroke="#c8c8c8"/>
<line x1="329.5" y1="402" x2="329.5" y2="404" stroke="#c8c8c8"/>
<line x1="329.5" y1="415" x2="329.5" y2="417" stroke="#c8c8c8"/>
<line x1="329.5" y1="514" x2="329.5" y2="516" stroke="#c8c8c8"/>
<line x1="333.5" y1="402" x2="333.5" y2="404" stroke="#c8c8c8"/>
<line x1="333.5" y1="415" x2="333.5" y2="417" stroke="#c8c8c8"/>
<line x1="333.5" y1="514" x2="333.5" y2="516" stroke="#c8c8c8"/>
<line x1="337.5" y1="402" x2="337.5" y2="404" stroke="#c8c8c8"/>
<line x1="337.5" y1="415" x2="337.5" y2="417" stroke="#c8c8c8"/>
<line x1="337.5" y1="514" x2="337.5" y2="516" stroke="#c8c8c8"/>
<line x1="341.5" y1="402" x2="341.5" y2="404" stroke="#c8c8c8"/>
<line x1="341.5" y1="415" x2="341.5" y2="417" stroke="#c8c8c8"/>
<line x1="341.5" y1="514" x2="341.5" y2="516" stroke="#c8c8c8"/>
<line x1="345.5" y1="402" x2="345.5" y2="404" stroke="#c8c8c8"/>
<line x1="345.5" y1="415" x2="345.5" y2="417" stroke="#c8c8c8"/>
<line x1="345.5" y1="514" x2="345.5" y2="516" stroke="#c8c8c8"/>
<line x1="349.5" y1="402" x2="349.5" y2="404" stroke="#c8c8c8"/>
<line x1="349.5" y1="415" x2="349.5" y2="417" stroke="#c8c8c8"/>
<line x1="349.5" y1="514" x2="349.5" y2="516" stroke="#c8c8c8"/>
<line x1="353.5" y1="402" x2="353.5" y2="404" stroke="#c8c8c8"/>
<line x1="353.5" y1="415" x2="353.5" y2="417" stroke="#c8c8c8"/>
<line x1="353.5" y1="514" x2="353.5" y2="516" stroke="#c8c8c8"/>
<line x1="357.5" y1="402" x2="357.5" y2="404" stroke="#c8c8c8"/>
<line x1="357.5" y1="415" x2="357.5" y2="417" stroke="#c8c8c8"/>
<line x1="357.5" y1="514" x2="357.5" y2="516" stroke="#c8c8c8"/>
<line x1="360.5" y1="402" x2="360.5" y2="404" stroke="#c8c8c8"/>
<line x1="360.5" y1="415" x2="360.5" y2="417" stroke="#c8c8c8"/>
<line x1="360.5" y1="514" x2="360.5" y2="516" stroke="#c8c8c8"/>
<line x1="364.5" y1="402" x2="364.5" y2="404" stroke="#c8c8c8"/>
<line x1="364.5" y1="415" x2="364.5" y2="417" stroke="#c8c8c8"/>
<line x1="364.5" y1="514" x2="364.5" y2="516" stroke="#c8c8c8"/>
<line x1="368.5" y1="402" x2="368.5" y2="404" stroke="#c8c8c8"/>
<line x1="368.5" y1="415" x2="368.5" y2="417" stroke="#c8c8c8"/>
<line x1="368.5" y1="514" x2="368.5" y2="516" stroke="#c8c8c8"/>
<line x1="372.5" y1="402" x2="372.5" y2="404" stroke="#c8c8c8"/>
<line x1="372.5" y1="415" x2="372.5" y2="417" stroke="#c8c8c8"/>
<line x1="372.5" y1="514" x2="372.5" y2="516" stroke="#c8c8c8"/>
<line x1="376.5" y1="402" x2="376.5" y2="404" stroke="#c8c8c8"/>
<line x1="376.5" y1="415" x2="376.5" y2="417" stroke="#c8c8c8"/>
<line x1="376.5" y1="514" x2="376.5" y2="516" stroke="#c8c8c8"/>
<line x1="380.5" y1="402" x2="380.5" y2="404" stroke="#c8c8c8"/>
<line x1="380.5" y1="415" x2="380.5" y2="417" stroke="#c8c8c8"/>
<line x1="380.5" y1="514" x2="380.5" y2="516" stroke="#c8c8c8"/>
<line x1="384.5" y1="402" x2="384.5" y2="404" stroke="#c8c8c8"/>
<line x1="384.5" y1="415" x2="384.5" y2="417" stroke="#c8c8c8"/>
<line x1="384.5" y1="514" x2="384.5" y2="516" stroke="#c8c8c8"/>
<line x1="388.5" y1="402" x2="388.5" y2="404" stroke="#c8c8c8"/>
<line x1="388.5" y1="415" x2="388.5" y2="417" stroke="#c8c8c8"/>
<line x1="388.5" y1="514" x2="388.5" y2="516" stroke="#c8c8c8"/>
<line x1="392.5" y1="402" x2="392.5" y2="404" stroke="#c8c8c8"/>
<line x1="392.5" y1="415" x2="392.5" y2="417" stroke="#c8c8c8"/>
<line x1="392.5" y1="514" x2="392.5" y2="516" stroke="#c8c8c8"/>
<line x1="396.5" y1="402" x2="396.5" y2="404" stroke="#c8c8c8"/>
<line x1="396.5" y1="415" x2="396.5" y2="417" stroke="#c8c8c8"/>
<line x1="396.5" y1="514" x2="396.5" y2="516" stroke="#c8c8c8"/>
<line x1="400.5" y1="402" x2="400.5" y2="404" stroke="#c8c8c8"/>
<line x1="400.5" y1="415" x2="400.5" y2="417" stroke="#c8c8c8"/>
<line x1="400.5" y1="514" x2="400.5" y2="516" stroke="#c8c8c8"/>
<line x1="404.5" y1="402" x2="404.5" y2="404" stroke="#c8c8c8"/>
<line x1="404.5" y1="415" x2="404.5" y2="417" stroke="#c8c8c8"/>
<line x1="404.5" y1="514" x2="404.5" y2="516" stroke="#c8c8c8"/>
<line x1="407.5" y1="402" x2="407.5" y2="404" stroke="#c8c8c8"/>
<line x1="407.5" y1="415" x2="407.5" y2="417" stroke="#c8c8c8"/>
<line x1="407.5" y1="514" x2="407.5" y2="516" stroke="#c8c8c8"/>
<line x1="411.5" y1="402" x2="411.5" y2="404" stroke="#c8c8c8"/>
<line x1="411.5" y1="415" x2="411.5" y2="417" stroke="#c8c8c8"/>
<line x1="411.5" y1="514" x2="411.5" y2="516" stroke="#c8c8c8"/>
<line x1="415.5" y1="402" x2="415.5" y2="404" stroke="#c8c8c8"/>
<line x1="415.5" y1="415" x2="415.5" y2="417" stroke="#c8c8c8"/>
<line x1="415.5" y1="514" x2="415.5" y2="516" stroke="#c8c8c8"/>
<line x1="419.5" y1="402" x2="419.5" y2="404" stroke="#c8c8c8"/>
<line x1="419.5" y1="415" x2="419.5" y2="417" stroke="#c8c8c8"/>
<line x1="419.5" y1="514" x2="419.5" y2="516" stroke="#c8c8c8"/>
<line x1="423.5" y1="402" x2="423.5" y2="404" stroke="#c8c8c8"/>
<line x1="423.5" y1="415" x2="423.5" y2="417" stroke="#c8c8c8"/>
<line x1="423.5" y1="514" x2="423.5" y2="516" stroke="#c8c8c8"/>
<line x1="427.5" y1="402" x2="427.5" y2="404" stroke="#c8c8c8"/>
<line x1="427.5" y1="415" x2="427.5" y2="417" stroke="#c8c8c8"/>
<line x1="427.5" y1="514" x2="427.5" y2="516" stroke="#c8c8c8"/>
<line x1="431.5" y1="402" x2="431.5" y2="404" stroke="#c8c8c8"/>
<line x1="431.5" y1="415" x2="431.5" y2="417" stroke="#c8c8c8"/>
<line x1="431.5" y1="514" x2="431.5" y2="516" stroke="#c8c8c8"/>
<line x1="435.5" y1="402" x2="435.5" y2="404" stroke="#c8c8c8"/>
<line x1="435.5" y1="415" x2="435.5" y2="417" stroke="#c8c8c8"/>
<line x1="435.5" y1="514" x2="435.5" y2="516" stroke="#c8c8c8"/>
<line x1="439.5" y1="402" x2="439.5" y2="404" stroke="#c8c8c8"/>
<line x1="439.5" y1="415" x2="439.5" y2="417" stroke="#c8c8c8"/>
<line x1="439.5" y1="514" x2="439.5" y2="516" stroke="#c8c8c8"/>
<line x1="443.5" y1="402" x2="443.5" y2="404" stroke="#c8c8c8"/>
<line x1="443.5" y1="415" x2="443.5" y2="417" stroke="#c8c8c8"/>
<line x1="443.5" y1="514" x2="443.5" y2="516" stroke="#c8c8c8"/>
<line x1="447.5" y1="402" x2="447.5" y2="404" stroke="#c8c8c8"/>
<line x1="447.5" y1="415" x2="447.5" y2="417" stroke="#c8c8c8"/>
<line x1="447.5" y1="514" x2="447.5" y2="516" stroke="#c8c8c8"/>
<line x1="451.5" y1="402" x2="451.5" y2="404" stroke="#c8c8c8"/>
<line x1="451.5" y1="415" x2="451.5" y2="417" stroke="#c8c8c8"/>
<line x1="451.5" y1="514" x2="451.5" y2="516" stroke="#c8c8c8"/>
<line x1="454.5" y1="402" x2="454.5" y2="404" stroke="#c8c8c8"/>
<line x1="454.5" y1="415" x2="454.5" y2="417" stroke="#c8c8c8"/>
<line x1="454.5" y1="514" x2="454.5" y2="516" stroke="#c8c8c8"/>
<line x1="458.5" y1="402" x2="458.5" y2="404" stroke="#c8c8c8"/>
<line x1="458.5" y1="415" x2="458.5" y2="417" stroke="#c8c8c8"/>
<line x1="458.5" y1="514" x2="458.5" y2="516" stroke="#c8c8c8"/>
<line x1="462.5" y1="402" x2="462.5" y2="404" stroke="#c8c8c8"/>
<line x1="462.5" y1="415" x2="462.5" y2="417" stroke="#c8c8c8"/>
<line x1="462.5" y1="514" x2="462.5" y2="516" stroke="#c8c8c8"/>
<line x1="466.5" y1="402" x2="466.5" y2="404" stroke="#c8c8c8"/>
<line x1="466.5" y1="415" x2="466.5" y2="417" stroke="#c8c8c8"/>
<line x1="466.5" y1="514" x2="466.5" y2="516" stroke="#c8c8c8"/>
<line x1="470.5" y1="402" x2="470.5" y2="404" stroke="#c8c8c8"/>
<line x1="470.5" y1="415" x2="470.5" y2="417" stroke="#c8c8c8"/>
<line x1="470.5" y1="514" x2="470.5" y2="516" stroke="#c8c8c8"/>
<line x1="474.5" y1="402" x2="474.5" y2="404" stroke="#c8c8c8"/>
<line x1="474.5" y1="415" x2="474.5" y2="417" stroke="#c8c8c8"/>
<line x1="474.5" y1="514" x2="474.5" y2="516" stroke="#c8c8c8"/>
<line x1="478.5" y1="402" x2="478.5" y2="404" stroke="#c8c8c8"/>
<line x1="478.5" y1="415" x2="478.5" y2="417" stroke="#c8c8c8"/>
<line x1="478.5" y1="514" x2="478.5" y2="516" stroke="#c8c8c8"/>
<line x1="482.5" y1="402" x2="482.5" y2="404" stroke="#c8c8c8"/>
<line x1="482.5" y1="415" x2="482.5" y2="417" stroke="#c8c8c8"/>
<line x1="482.5" y1="514" x2="482.5" y2="516" stroke="#c8c8c8"/>
<line x1="486.5" y1="402" x2="486.5" y2="404" stroke="#c8c8c8"/>
<line x1="486.5" y1="415" x2="486.5" y2="417" stroke="#c8c8c8"/>
<line x1="486.5" y1="514" x2="486.5" y2="516" stroke="#c8c8c8"/>
<line x1="490.5" y1="402" x2="490.5" y2="404" stroke="#c8c8c8"/>
<line x1="490.5" y1="415" x2="490.5" y2="417" stroke="#c8c8c8"/>
<line x1="490.5" y1="514" x2="490.5" y2="516" stroke="#c8c8c8"/>
<line x1="494.5" y1="402" x2="494.5" y2="404" stroke="#c8c8c8"/>
<line x1="494.5" y1="415" x2="494.5" y2="417" stroke="#c8c8c8"/>
<line x1="494.5" y1="514" x2="494.5" y2="516" stroke="#c8c8c8"/>
<line x1="497.5" y1="402" x2="497.5" y2="404" stroke="#c8c8c8"/>
<line x1="497.5" y1="415" x2="497.5" y2="417" stroke="#c8c8c8"/>
<line x1="497.5" y1="514" x2="497.5" y2="516" stroke="#c8c8c8"/>
<line x1="501.5" y1="402" x2="501.5" y2="404" stroke="#c8c8c8"/>
<line x1="501.5" y1="415" x2="501.5" y2="417" stroke="#c8c8c8"/>
<line x1="501.5" y1="514" x2="501.5" y2="516" stroke="#c8c8c8"/>
<line x1="505.5" y1="402" x2="505.5" y2="404" stroke="#c8c8c8"/>
<line x1="505.5" y1="415" x2="505.5" y2="417" stroke="#c8c8c8"/>
<line x1="505.5" y1="514" x2="505.5" y2="516" stroke="#c8c8c8"/>
<line x1="509.5" y1="402" x2="509.5" y2="404" stroke="#c8c8c8"/>
<line x1="509.5" y1="415" x2="509.5" y2="417" stroke="#c8c8c8"/>
<line x1="509.5" y1="514" x2="509.5" y2="516" stroke="#c8c8c8"/>
<line x1="513.5" y1="402" x2="513.5" y2="404" stroke="#c8c8c8"/>
<line x1="513.5" y1="415" x2="513.5" y2="417" stroke="#c8c8c8"/>
<line x1="513.5" y1="514" x2="513.5" y2="516" stroke="#c8c8c8"/>
<line x1="517.5" y1="402" x2="517.5" y2="404" stroke="#c8c8c8"/>
<line x1="517.5" y1="415" x2="517.5" y2="417" stroke="#c8c8c8"/>
<line x1="517.5" y1="514" x2="517.5" y2="516" stroke="#c8c8c8"/>
<line x1="521.5" y1="402" x2="521.5" y2="404" stroke="#c8c8c8"/>
<line x1="521.5" y1="415" x2="521.5" y2="417" stroke="#c8c8c8"/>
<line x1="521.5" y1="514" x2="521.5" y2="516" stroke="#c8c8c8"/>
<line x1="525.5" y1="402" x2="525.5" y2="404" stroke="#c8c8c8"/>
<line x1="525.5" y1="415" x2="525.5" y2="417" stroke="#c8c8c8"/>
<line x1="525.5" y1="514" x2="525.5" y2="516" stroke="#c8c8c8"/>
<line x1="529.5" y1="402" x2="529.5" y2="404" stroke="#c8c8c8"/>
<line x1="529.5" y1="415" x2="529.5" y2="417" stroke="#c8c8c8"/>
<line x1="529.5" y1="514" x2="529.5" y2="516" stroke="#c8c8c8"/>
<line x1="533.5" y1="402" x2="533.5" y2="404" stroke="#c8c8c8"/>
<line x1="533.5" y1="415" x2="533.5" y2="417" stroke="#c8c8c8"/>
<line x1="533.5" y1="514" x2="533.5" y2="516" stroke="#c8c8c8"/>
<line x1="537.5" y1="402" x2="537.5" y2="404" stroke="#c8c8c8"/>
<line x1="537.5" y1="415" x2="537.5" y2="417" stroke="#c8c8c8"/>
<line x1="537.5" y1="514" x2="537.5" y2="516" stroke="#c8c8c8"/>
<line x1="541.5" y1="402" x2="541.5" y2="404" stroke="#c8c8c8"/>
<line x1="541.5" y1="415" x2="541.5" y2="417" stroke="#c8c8c8"/>
<line x1="541.5" y1="514" x2="541.5" y2="516" stroke="#c8c8c8"/>
<line x1="544.5" y1="402" x2="544.5" y2="404" stroke="#c8c8c8"/>
<line x1="544.5" y1="415" x2="544.5" y2="417" stroke="#c8c8c8"/>
<line x1="544.5" y1="514" x2="544.5" y2="516" stroke="#c8c8c8"/>
<line x1="548.5" y1="402" x2="548.5" y2="404" stroke="#c8c8c8"/>
<line x1="548.5" y1="415" x2="548.5" y2="417" stroke="#c8c8c8"/>
<line x1="548.5" y1="514" x2="548.5" y2="516" stroke="#c8c8c8"/>
<line x1="552.5" y1="402" x2="552.5" y2="404" stroke="#c8c8c8"/>
<line x1="552.5" y1="415" x2="552.5" y2="417" stroke="#c8c8c8"/>
<line x1="552.5" y1="514" x2="552.5" y2="516" stroke="#c8c8c8"/>
<line x1="556.5" y1="402" x2="556.5" y2="404" stroke="#c8c8c8"/>
<line x1="556.5" y1="415" x2="556.5" y2="417" stroke="#c8c8c8"/>
<line x1="556.5" y1="514" x2="556.5" y2="516" stroke="#c8c8c8"/>
<line x1="560.5" y1="402" x2="560.5" y2="404" stroke="#c8c8c8"/>
<line x1="560.5" y1="415" x2="560.5" y2="417" stroke="#c8c8c8"/>
<line x1="560.5" y1="514" x2="560.5" y2="516" stroke="#c8c8c8"/>
<line x1="564.5" y1="402" x2="564.5" y2="404" stroke="#c8c8c8"/>
<line x1="564.5" y1="415" x2="564.5" y2="417" stroke="#c8c8c8"/>
<line x1="564.5" y1="514" x2="564.5" y2="516" stroke="#c8c8c8"/>
<line x1="568.5" y1="402" x2="568.5" y2="404" stroke="#c8c8c8"/>
<line x1="568.5" y1="415" x2="568.5" y2="417" stroke="#c8c8c8"/>
<line x1="568.5" y1="514" x2="568.5" y2="516" stroke="#c8c8c8"/>
<line x1="572.5" y1="402" x2="572.5" y2="404" stroke="#c8c8c8"/>
<line x1="572.5" y1="415" x2="572.5" y2="417" stroke="#c8c8c8"/>
<line x1="572.5" y1="514" x2="572.5" y2="516" stroke="#c8c8c8"/>
<line x1="576.5" y1="402" x2="576.5" y2="404" stroke="#c8c8c8"/>
<line x1="576.5" y1="415" x2="576.5" y2="417" stroke="#c8c8c8"/>
<line x1="576.5" y1="514" x2="576.5" y2="516" stroke="#c8c8c8"/>
<line x1="580.5" y1="402" x2="580.5" y2="404" stroke="#c8c8c8"/>
<line x1="580.5" y1="415" x2="580.5" y2="417" stroke="#c8c8c8"/>
<line x1="580.5" y1="514" x2="580.5" y2="516" stroke="#c8c8c8"/>
<line x1="584.5" y1="402" x2="584.5" y2="404" stroke="#c8c8c8"/>
<line x1="584.5" y1="415" x2="584.5" y2="417" stroke="#c8c8c8"/>
<line x1="584.5" y1="514" x2="584.5" y2="516" stroke="#c8c8c8"/>
<line x1="587.5" y1="402" x2="587.5" y2="404" stroke="#c8c8c8"/>
<line x1="587.5" y1="415" x2="587.5" y2="417" stroke="#c8c8c8"/>
<line x1="587.5" y1="514" x2="587.5" y2="516" stroke="#c8c8c8"/>
<line x1="591.5" y1="402" x2="591.5" y2="404" stroke="#c8c8c8"/>
<line x1="591.5" y1="415" x2="591.5" y2="417" stroke="#c8c8c8"/>
<line x1="591.5" y1="514" x2="591.5" y2="516" stroke="#c8c8c8"/>
<line x1="595.5" y1="402" x2="595.5" y2="404" stroke="#c8c8c8"/>
<line x1="595.5" y1="415" x2="595.5" y2="417" stroke="#c8c8c8"/>
<line x1="595.5" y1="514" x2="595.5" y2="516" stroke="#c8c8c8"/>
<line x1="599.5" y1="402" x2="599.5" y2="404" stroke="#c8c8c8"/>
<line x1="599.5" y1="415" x2="599.5" y2="417" stroke="#c8c8c8"/>
<line x1="599.5" y1="514" x2="599.5" y2="516" stroke="#c8c8c8"/>
<line x1="603.5" y1="402" x2="603.5" y2="404" stroke="#c8c8c8"/>
<line x1="603.5" y1="415" x2="603.5" y2="417" stroke="#c8c8c8"/>
<line x1="603.5" y1="514" x2="603.5" y2="516" stroke="#c8c8c8"/>
<line x1="607.5" y1="402" x2="607.5" y2="404" stroke="#c8c8c8"/>
<line x1="607.5" y1="415" x2="607.5" y2="417" stroke="#c8c8c8"/>
<line x1="607.5" y1="514" x2="607.5" y2="516" stroke="#c8c8c8"/>
<line x1="611.5" y1="402" x2="611.5" y2="404" stroke="#c8c8c8"/>
<line x1="611.5" y1="415" x2="611.5" y2="417" stroke="#c8c8c8"/>
<line x1="611.5" y1="514" x2="611.5" y2="516" stroke="#c8c8c8"/>
<line x1="615.5" y1="402" x2="615.5" y2="404" stroke="#c8c8c8"/>
<line x1="615.5" y1="415" x2="615.5" y2="417" stroke="#c8c8c8"/>
<line x1="615.5" y1="514" x2="615.5" y2="516" stroke="#c8c8c8"/>
<line x1="619.5" y1="402" x2="619.5" y2="404" stroke="#c8c8c8"/>
<line x1="619.5" y1="415" x2="619.5" y2="417" stroke="#c8c8c8"/>
<line x1="619.5" y1="514" x2="619.5" y2="516" stroke="#c8c8c8"/>
<line x1="623.5" y1="402" x2="623.5" y2="404" stroke="#c8c8c8"/>
<line x1="623.5" y1="415" x2="623.5" y2="417" stroke="#c8c8c8"/>
<line x1="623.5" y1="514" x2="623.5" y2="516" stroke="#c8c8c8"/>
<line x1="627.5" y1="402" x2="627.5" y2="404" stroke="#c8c8c8"/>
<line x1="627.5" y1="415" x2="627.5" y2="417" stroke="#c8c8c8"/>
<line x1="627.5" y1="514" x2="627.5" y2="516" stroke="#c8c8c8"/>
<line x1="631.5" y1="402" x2="631.5" y2="404" stroke="#c8c8c8"/>
<line x1="631.5" y1="415" x2="631.5" y2="417" stroke="#c8c8c8"/>
<line x1="631.5" y1="514" x2="631.5" y2="516" stroke="#c8c8c8"/>
<line x1="634.5" y1="402" x2="634.5" y2="404" stroke="#c8c8c8"/>
<line x1="634.5" y1="415" x2="634.5" y2="417" stroke="#c8c8c8"/>
<line x1="634.5" y1="514" x2="634.5" y2="516" stroke="#c8c8c8"/>
<line x1="638.5" y1="402" x2="638.5" y2="404" stroke="#c8c8c8"/>
<line x1="638.5" y1="415" x2="638.5" y2="417" stroke="#c8c8c8"/>
<line x1="638.5" y1="514" x2="638.5" y2="516" stroke="#c8c8c8"/>
<line x1="642.5" y1="402" x2="642.5" y2="404" stroke="#c8c8c8"/>
<line x1="642.5" y1="415" x2="642.5" y2="417" stroke="#c8c8c8"/>
<line x1="642.5" y1="514" x2="642.5" y2="516" stroke="#c8c8c8"/>
<line x1="646.5" y1="402" x2="646.5" y2="404" stroke="#c8c8c8"/>
<line x1="646.5" y1="415" x2="646.5" y2="417" stroke="#c8c8c8"/>
<line x1="646.5" y1="514" x2="646.5" y2="516" stroke="#c8c8c8"/>
<line x1="650.5" y1="402" x2="650.5" y2="404" stroke="#c8c8c8"/>
<line x1="650.5" y1="415" x2="650.5" y2="417" stroke="#c8c8c8"/>
<line x1="650.5" y1="514" x2="650.5" y2="516" stroke="#c8c8c8"/>
</g>
<text x="44.0" y="413.7" font-size="10" font-weight="bold" fill="#000" text-anchor="middle" textLength="11" lengthAdjust="spacingAndGlyphs">09</text>
<text x="60.7" y="413.5" font-size="9.6" font-weight="normal" fill="#000" text-anchor="middle" textLength="3.8" lengthAdjust="spacingAndGlyphs">F</text>
<text x="76.3" y="413.5" font-size="9.6" font-weight="normal" fill="#000" text-anchor="middle" textLength="7" lengthAdjust="spacingAndGlyphs">M</text>
<text x="95.9" y="413.5" font-size="9.6" font-weight="normal" fill="#000" text-anchor="middle" textLength="6.6" lengthAdjust="spacingAndGlyphs">A</text>
<text x="111.5" y="413.5" font-size="9.6" font-weight="normal" fill="#000" text-anchor="middle" textLength="7" lengthAdjust="spacingAndGlyphs">M</text>
<text x="127.2" y="413.5" font-size="9.6" font-weight="normal" fill="#000" text-anchor="middle" textLength="4" lengthAdjust="spacingAndGlyphs">J</text>
<text x="146.8" y="413.5" font-size="9.6" font-weight="normal" fill="#000" text-anchor="middle" textLength="4" lengthAdjust="spacingAndGlyphs">J</text>
<text x="162.4" y="413.5" font-size="9.6" font-weight="normal" fill="#000" text-anchor="middle" textLength="6.6" lengthAdjust="spacingAndGlyphs">A</text>
<text x="182.0" y="413.5" font-size="9.6" font-weight="normal" fill="#000" text-anchor="middle" textLength="5.2" lengthAdjust="spacingAndGlyphs">S</text>
<text x="197.6" y="413.5" font-size="9.6" font-weight="normal" fill="#000" text-anchor="middle" textLength="6" lengthAdjust="spacingAndGlyphs">O</text>
<text x="213.3" y="413.5" font-size="9.6" font-weight="normal" fill="#000" text-anchor="middle" textLength="5.2" lengthAdjust="spacingAndGlyphs">N</text>
<text x="232.9" y="413.5" font-size="9.6" font-weight="normal" fill="#000" text-anchor="middle" textLength="5.4" lengthAdjust="spacingAndGlyphs">D</text>
<text x="247.5" y="413.7" font-size="10" font-weight="bold" fill="#000" text-anchor="middle" textLength="11" lengthAdjust="spacingAndGlyphs">10</text>
<text x="264.2" y="413.5" font-size="9.6" font-weight="normal" fill="#000" text-anchor="middle" textLength="3.8" lengthAdjust="spacingAndGlyphs">F</text>
<text x="279.8" y="413.5" font-size="9.6" font-weight="normal" fill="#000" text-anchor="middle" textLength="7" lengthAdjust="spacingAndGlyphs">M</text>
<text x="299.4" y="413.5" font-size="9.6" font-weight="normal" fill="#000" text-anchor="middle" textLength="6.6" lengthAdjust="spacingAndGlyphs">A</text>
<text x="315.0" y="413.5" font-size="9.6" font-weight="normal" fill="#000" text-anchor="middle" textLength="7" lengthAdjust="spacingAndGlyphs">M</text>
<text x="334.6" y="413.5" font-size="9.6" font-weight="normal" fill="#000" text-anchor="middle" textLength="4" lengthAdjust="spacingAndGlyphs">J</text>
<text x="350.3" y="413.5" font-size="9.6" font-weight="normal" fill="#000" text-anchor="middle" textLength="4" lengthAdjust="spacingAndGlyphs">J</text>
<text x="365.9" y="413.5" font-size="9.6" font-weight="normal" fill="#000" text-anchor="middle" textLength="6.6" lengthAdjust="spacingAndGlyphs">A</text>
<text x="385.5" y="413.5" font-size="9.6" font-weight="normal" fill="#000" text-anchor="middle" textLength="5.2" lengthAdjust="spacingAndGlyphs">S</text>
<text x="401.1" y="413.5" font-size="9.6" font-weight="normal" fill="#000" text-anchor="middle" textLength="6" lengthAdjust="spacingAndGlyphs">O</text>
<text x="416.8" y="413.5" font-size="9.6" font-weight="normal" fill="#000" text-anchor="middle" textLength="5.2" lengthAdjust="spacingAndGlyphs">N</text>
<text x="436.4" y="413.5" font-size="9.6" font-weight="normal" fill="#000" text-anchor="middle" textLength="5.4" lengthAdjust="spacingAndGlyphs">D</text>
<text x="451.0" y="413.7" font-size="10" font-weight="bold" fill="#000" text-anchor="middle" textLength="11" lengthAdjust="spacingAndGlyphs">11</text>
<text x="471.6" y="413.5" font-size="9.6" font-weight="normal" fill="#000" text-anchor="middle" textLength="3.8" lengthAdjust="spacingAndGlyphs">F</text>
<text x="487.2" y="413.5" font-size="9.6" font-weight="normal" fill="#000" text-anchor="middle" textLength="7" lengthAdjust="spacingAndGlyphs">M</text>
<text x="502.9" y="413.5" font-size="9.6" font-weight="normal" fill="#000" text-anchor="middle" textLength="6.6" lengthAdjust="spacingAndGlyphs">A</text>
<text x="518.5" y="413.5" font-size="9.6" font-weight="normal" fill="#000" text-anchor="middle" textLength="7" lengthAdjust="spacingAndGlyphs">M</text>
<text x="538.1" y="413.5" font-size="9.6" font-weight="normal" fill="#000" text-anchor="middle" textLength="4" lengthAdjust="spacingAndGlyphs">J</text>
<text x="553.8" y="413.5" font-size="9.6" font-weight="normal" fill="#000" text-anchor="middle" textLength="4" lengthAdjust="spacingAndGlyphs">J</text>
<text x="569.4" y="413.5" font-size="9.6" font-weight="normal" fill="#000" text-anchor="middle" textLength="6.6" lengthAdjust="spacingAndGlyphs">A</text>
<text x="589.0" y="413.5" font-size="9.6" font-weight="normal" fill="#000" text-anchor="middle" textLength="5.2" lengthAdjust="spacingAndGlyphs">S</text>
<text x="604.6" y="413.5" font-size="9.6" font-weight="normal" fill="#000" text-anchor="middle" textLength="6" lengthAdjust="spacingAndGlyphs">O</text>
<text x="624.2" y="413.5" font-size="9.6" font-weight="normal" fill="#000" text-anchor="middle" textLength="5.2" lengthAdjust="spacingAndGlyphs">N</text>
<text x="639.9" y="413.5" font-size="9.6" font-weight="normal" fill="#000" text-anchor="middle" textLength="5.4" lengthAdjust="spacingAndGlyphs">D</text>
<text x="44.0" y="524.7" font-size="10" font-weight="bold" fill="#000" text-anchor="middle" textLength="11" lengthAdjust="spacingAndGlyphs">09</text>
<text x="60.7" y="524.5" font-size="9.6" font-weight="normal" fill="#000" text-anchor="middle" textLength="3.8" lengthAdjust="spacingAndGlyphs">F</text>
<text x="76.3" y="524.5" font-size="9.6" font-weight="normal" fill="#000" text-anchor="middle" textLength="7" lengthAdjust="spacingAndGlyphs">M</text>
<text x="95.9" y="524.5" font-size="9.6" font-weight="normal" fill="#000" text-anchor="middle" textLength="6.6" lengthAdjust="spacingAndGlyphs">A</text>
<text x="111.5" y="524.5" font-size="9.6" font-weight="normal" fill="#000" text-anchor="middle" textLength="7" lengthAdjust="spacingAndGlyphs">M</text>
<text x="127.2" y="524.5" font-size="9.6" font-weight="normal" fill="#000" text-anchor="middle" textLength="4" lengthAdjust="spacingAndGlyphs">J</text>
<text x="146.8" y="524.5" font-size="9.6" font-weight="normal" fill="#000" text-anchor="middle" textLength="4" lengthAdjust="spacingAndGlyphs">J</text>
<text x="162.4" y="524.5" font-size="9.6" font-weight="normal" fill="#000" text-anchor="middle" textLength="6.6" lengthAdjust="spacingAndGlyphs">A</text>
<text x="182.0" y="524.5" font-size="9.6" font-weight="normal" fill="#000" text-anchor="middle" textLength="5.2" lengthAdjust="spacingAndGlyphs">S</text>
<text x="197.6" y="524.5" font-size="9.6" font-weight="normal" fill="#000" text-anchor="middle" textLength="6" lengthAdjust="spacingAndGlyphs">O</text>
<text x="213.3" y="524.5" font-size="9.6" font-weight="normal" fill="#000" text-anchor="middle" textLength="5.2" lengthAdjust="spacingAndGlyphs">N</text>
<text x="232.9" y="524.5" font-size="9.6" font-weight="normal" fill="#000" text-anchor="middle" textLength="5.4" lengthAdjust="spacingAndGlyphs">D</text>
<text x="247.5" y="524.7" font-size="10" font-weight="bold" fill="#000" text-anchor="middle" textLength="11" lengthAdjust="spacingAndGlyphs">10</text>
<text x="264.2" y="524.5" font-size="9.6" font-weight="normal" fill="#000" text-anchor="middle" textLength="3.8" lengthAdjust="spacingAndGlyphs">F</text>
<text x="279.8" y="524.5" font-size="9.6" font-weight="normal" fill="#000" text-anchor="middle" textLength="7" lengthAdjust="spacingAndGlyphs">M</text>
<text x="299.4" y="524.5" font-size="9.6" font-weight="normal" fill="#000" text-anchor="middle" textLength="6.6" lengthAdjust="spacingAndGlyphs">A</text>
<text x="315.0" y="524.5" font-size="9.6" font-weight="normal" fill="#000" text-anchor="middle" textLength="7" lengthAdjust="spacingAndGlyphs">M</text>
<text x="334.6" y="524.5" font-size="9.6" font-weight="normal" fill="#000" text-anchor="middle" textLength="4" lengthAdjust="spacingAndGlyphs">J</text>
<text x="350.3" y="524.5" font-size="9.6" font-weight="normal" fill="#000" text-anchor="middle" textLength="4" lengthAdjust="spacingAndGlyphs">J</text>
<text x="365.9" y="524.5" font-size="9.6" font-weight="normal" fill="#000" text-anchor="middle" textLength="6.6" lengthAdjust="spacingAndGlyphs">A</text>
<text x="385.5" y="524.5" font-size="9.6" font-weight="normal" fill="#000" text-anchor="middle" textLength="5.2" lengthAdjust="spacingAndGlyphs">S</text>
<text x="401.1" y="524.5" font-size="9.6" font-weight="normal" fill="#000" text-anchor="middle" textLength="6" lengthAdjust="spacingAndGlyphs">O</text>
<text x="416.8" y="524.5" font-size="9.6" font-weight="normal" fill="#000" text-anchor="middle" textLength="5.2" lengthAdjust="spacingAndGlyphs">N</text>
<text x="436.4" y="524.5" font-size="9.6" font-weight="normal" fill="#000" text-anchor="middle" textLength="5.4" lengthAdjust="spacingAndGlyphs">D</text>
<text x="451.0" y="524.7" font-size="10" font-weight="bold" fill="#000" text-anchor="middle" textLength="11" lengthAdjust="spacingAndGlyphs">11</text>
<text x="471.6" y="524.5" font-size="9.6" font-weight="normal" fill="#000" text-anchor="middle" textLength="3.8" lengthAdjust="spacingAndGlyphs">F</text>
<text x="487.2" y="524.5" font-size="9.6" font-weight="normal" fill="#000" text-anchor="middle" textLength="7" lengthAdjust="spacingAndGlyphs">M</text>
<text x="502.9" y="524.5" font-size="9.6" font-weight="normal" fill="#000" text-anchor="middle" textLength="6.6" lengthAdjust="spacingAndGlyphs">A</text>
<text x="518.5" y="524.5" font-size="9.6" font-weight="normal" fill="#000" text-anchor="middle" textLength="7" lengthAdjust="spacingAndGlyphs">M</text>
<text x="538.1" y="524.5" font-size="9.6" font-weight="normal" fill="#000" text-anchor="middle" textLength="4" lengthAdjust="spacingAndGlyphs">J</text>
<text x="553.8" y="524.5" font-size="9.6" font-weight="normal" fill="#000" text-anchor="middle" textLength="4" lengthAdjust="spacingAndGlyphs">J</text>
<text x="569.4" y="524.5" font-size="9.6" font-weight="normal" fill="#000" text-anchor="middle" textLength="6.6" lengthAdjust="spacingAndGlyphs">A</text>
<text x="589.0" y="524.5" font-size="9.6" font-weight="normal" fill="#000" text-anchor="middle" textLength="5.2" lengthAdjust="spacingAndGlyphs">S</text>
<text x="604.6" y="524.5" font-size="9.6" font-weight="normal" fill="#000" text-anchor="middle" textLength="6" lengthAdjust="spacingAndGlyphs">O</text>
<text x="624.2" y="524.5" font-size="9.6" font-weight="normal" fill="#000" text-anchor="middle" textLength="5.2" lengthAdjust="spacingAndGlyphs">N</text>
<text x="639.9" y="524.5" font-size="9.6" font-weight="normal" fill="#000" text-anchor="middle" textLength="5.4" lengthAdjust="spacingAndGlyphs">D</text>
<g shape-rendering="crispEdges">
<line x1="38" y1="423.5" x2="656" y2="423.5" stroke="#dcdcdc"/>
<line x1="38" y1="449.5" x2="656" y2="449.5" stroke="#dcdcdc"/>
<line x1="38" y1="475.5" x2="656" y2="475.5" stroke="#dcdcdc"/>
<line x1="38" y1="502.5" x2="656" y2="502.5" stroke="#dcdcdc"/>
<line x1="44.5" y1="417" x2="44.5" y2="514" stroke="#cfcfcf" stroke-width="1"/>
<line x1="95.5" y1="417" x2="95.5" y2="514" stroke="#cfcfcf" stroke-width="1"/>
<line x1="146.5" y1="417" x2="146.5" y2="514" stroke="#cfcfcf" stroke-width="1"/>
<line x1="196.5" y1="417" x2="196.5" y2="514" stroke="#cfcfcf" stroke-width="1"/>
<line x1="247.5" y1="417" x2="247.5" y2="514" stroke="#cfcfcf" stroke-width="1"/>
<line x1="298.5" y1="417" x2="298.5" y2="514" stroke="#cfcfcf" stroke-width="1"/>
<line x1="349.5" y1="417" x2="349.5" y2="514" stroke="#cfcfcf" stroke-width="1"/>
<line x1="400.5" y1="417" x2="400.5" y2="514" stroke="#cfcfcf" stroke-width="1"/>
<line x1="451.5" y1="417" x2="451.5" y2="514" stroke="#cfcfcf" stroke-width="1"/>
<line x1="501.5" y1="417" x2="501.5" y2="514" stroke="#cfcfcf" stroke-width="1"/>
<line x1="552.5" y1="417" x2="552.5" y2="514" stroke="#cfcfcf" stroke-width="1"/>
<line x1="603.5" y1="417" x2="603.5" y2="514" stroke="#cfcfcf" stroke-width="1"/>
</g>
<rect x="38.49" y="447.10" width="3.9" height="2.40" fill="#5aaad6" stroke="#2a66a6" stroke-width="0.8"/>
<rect x="42.40" y="446.30" width="3.9" height="3.20" fill="#5aaad6" stroke="#2a66a6" stroke-width="0.8"/>
<rect x="46.32" y="446.80" width="3.9" height="2.70" fill="#5aaad6" stroke="#2a66a6" stroke-width="0.8"/>
<rect x="50.23" y="446.80" width="3.9" height="2.70" fill="#5aaad6" stroke="#2a66a6" stroke-width="0.8"/>
<rect x="54.14" y="446.30" width="3.9" height="3.20" fill="#5aaad6" stroke="#2a66a6" stroke-width="0.8"/>
<rect x="58.06" y="444.20" width="3.9" height="5.30" fill="#5aaad6" stroke="#2a66a6" stroke-width="0.8"/>
<rect x="61.97" y="445.10" width="3.9" height="4.40" fill="#5aaad6" stroke="#2a66a6" stroke-width="0.8"/>
<rect x="65.88" y="446.80" width="3.9" height="2.70" fill="#5aaad6" stroke="#2a66a6" stroke-width="0.8"/>
<rect x="69.80" y="448.50" width="3.9" height="1.00" fill="#5aaad6" stroke="#2a66a6" stroke-width="0.8"/>
<rect x="73.71" y="449.50" width="3.9" height="1.90" fill="#5aaad6" stroke="#2a66a6" stroke-width="0.8"/>
<rect x="77.62" y="449.50" width="3.9" height="0.60" fill="#5aaad6" stroke="#2a66a6" stroke-width="0.8"/>
<rect x="81.54" y="448.50" width="3.9" height="1.00" fill="#5aaad6" stroke="#2a66a6" stroke-width="0.8"/>
<rect x="85.45" y="444.20" width="3.9" height="5.30" fill="#5aaad6" stroke="#2a66a6" stroke-width="0.8"/>
<rect x="89.37" y="441.70" width="3.9" height="7.80" fill="#5aaad6" stroke="#2a66a6" stroke-width="0.8"/>
<rect x="93.28" y="439.40" width="3.9" height="10.10" fill="#5aaad6" stroke="#2a66a6" stroke-width="0.8"/>
<rect x="97.19" y="437.20" width="3.9" height="12.30" fill="#5aaad6" stroke="#2a66a6" stroke-width="0.8"/>
<rect x="101.11" y="436.00" width="3.9" height="13.50" fill="#5aaad6" stroke="#2a66a6" stroke-width="0.8"/>
<rect x="105.02" y="436.00" width="3.9" height="13.50" fill="#5aaad6" stroke="#2a66a6" stroke-width="0.8"/>
<rect x="108.93" y="434.30" width="3.9" height="15.20" fill="#5aaad6" stroke="#2a66a6" stroke-width="0.8"/>
<rect x="112.85" y="435.10" width="3.9" height="14.40" fill="#5aaad6" stroke="#2a66a6" stroke-width="0.8"/>
<rect x="116.76" y="436.50" width="3.9" height="13.00" fill="#5aaad6" stroke="#2a66a6" stroke-width="0.8"/>
<rect x="120.67" y="436.50" width="3.9" height="13.00" fill="#5aaad6" stroke="#2a66a6" stroke-width="0.8"/>
<rect x="124.59" y="436.00" width="3.9" height="13.50" fill="#5aaad6" stroke="#2a66a6" stroke-width="0.8"/>
<rect x="128.50" y="436.00" width="3.9" height="13.50" fill="#5aaad6" stroke="#2a66a6" stroke-width="0.8"/>
<rect x="132.41" y="438.20" width="3.9" height="11.30" fill="#5aaad6" stroke="#2a66a6" stroke-width="0.8"/>
<rect x="136.33" y="439.40" width="3.9" height="10.10" fill="#5aaad6" stroke="#2a66a6" stroke-width="0.8"/>
<rect x="140.24" y="442.00" width="3.9" height="7.50" fill="#5aaad6" stroke="#2a66a6" stroke-width="0.8"/>
<rect x="144.15" y="443.70" width="3.9" height="5.80" fill="#5aaad6" stroke="#2a66a6" stroke-width="0.8"/>
<rect x="148.07" y="442.90" width="3.9" height="6.60" fill="#5aaad6" stroke="#2a66a6" stroke-width="0.8"/>
<rect x="151.98" y="442.00" width="3.9" height="7.50" fill="#5aaad6" stroke="#2a66a6" stroke-width="0.8"/>
<rect x="155.90" y="441.40" width="3.9" height="8.10" fill="#5aaad6" stroke="#2a66a6" stroke-width="0.8"/>
<rect x="159.81" y="440.30" width="3.9" height="9.20" fill="#5aaad6" stroke="#2a66a6" stroke-width="0.8"/>
<rect x="163.72" y="440.30" width="3.9" height="9.20" fill="#5aaad6" stroke="#2a66a6" stroke-width="0.8"/>
<rect x="167.64" y="440.30" width="3.9" height="9.20" fill="#5aaad6" stroke="#2a66a6" stroke-width="0.8"/>
<rect x="171.55" y="442.00" width="3.9" height="7.50" fill="#5aaad6" stroke="#2a66a6" stroke-width="0.8"/>
<rect x="175.46" y="442.30" width="3.9" height="7.20" fill="#5aaad6" stroke="#2a66a6" stroke-width="0.8"/>
<rect x="179.38" y="442.30" width="3.9" height="7.20" fill="#5aaad6" stroke="#2a66a6" stroke-width="0.8"/>
<rect x="183.29" y="442.30" width="3.9" height="7.20" fill="#5aaad6" stroke="#2a66a6" stroke-width="0.8"/>
<rect x="187.20" y="443.40" width="3.9" height="6.10" fill="#5aaad6" stroke="#2a66a6" stroke-width="0.8"/>
<rect x="191.12" y="445.10" width="3.9" height="4.40" fill="#5aaad6" stroke="#2a66a6" stroke-width="0.8"/>
<rect x="195.03" y="445.40" width="3.9" height="4.10" fill="#5aaad6" stroke="#2a66a6" stroke-width="0.8"/>
<rect x="198.94" y="445.40" width="3.9" height="4.10" fill="#5aaad6" stroke="#2a66a6" stroke-width="0.8"/>
<rect x="202.86" y="445.10" width="3.9" height="4.40" fill="#5aaad6" stroke="#2a66a6" stroke-width="0.8"/>
<rect x="206.77" y="447.50" width="3.9" height="2.00" fill="#5aaad6" stroke="#2a66a6" stroke-width="0.8"/>
<rect x="210.68" y="448.50" width="3.9" height="1.00" fill="#5aaad6" stroke="#2a66a6" stroke-width="0.8"/>
<rect x="214.60" y="448.50" width="3.9" height="1.00" fill="#5aaad6" stroke="#2a66a6" stroke-width="0.8"/>
<rect x="218.51" y="448.50" width="3.9" height="1.00" fill="#5aaad6" stroke="#2a66a6" stroke-width="0.8"/>
<rect x="222.42" y="448.50" width="3.9" height="1.00" fill="#5aaad6" stroke="#2a66a6" stroke-width="0.8"/>
<rect x="226.34" y="448.50" width="3.9" height="1.00" fill="#5aaad6" stroke="#2a66a6" stroke-width="0.8"/>
<rect x="230.25" y="448.50" width="3.9" height="1.00" fill="#5aaad6" stroke="#2a66a6" stroke-width="0.8"/>
<rect x="234.17" y="449.20" width="3.9" height="0.60" fill="#5aaad6" stroke="#2a66a6" stroke-width="0.8"/>
<rect x="238.08" y="449.40" width="3.9" height="0.60" fill="#5aaad6" stroke="#2a66a6" stroke-width="0.8"/>
<rect x="241.99" y="449.40" width="3.9" height="0.60" fill="#5aaad6" stroke="#2a66a6" stroke-width="0.8"/>
<rect x="245.91" y="448.50" width="3.9" height="1.00" fill="#5aaad6" stroke="#2a66a6" stroke-width="0.8"/>
<rect x="249.82" y="449.20" width="3.9" height="0.60" fill="#5aaad6" stroke="#2a66a6" stroke-width="0.8"/>
<rect x="253.73" y="449.50" width="3.9" height="0.70" fill="#5aaad6" stroke="#2a66a6" stroke-width="0.8"/>
<rect x="257.65" y="449.50" width="3.9" height="2.80" fill="#5aaad6" stroke="#2a66a6" stroke-width="0.8"/>
<rect x="261.56" y="449.50" width="3.9" height="4.80" fill="#5aaad6" stroke="#2a66a6" stroke-width="0.8"/>
<rect x="265.47" y="449.50" width="3.9" height="4.80" fill="#5aaad6" stroke="#2a66a6" stroke-width="0.8"/>
<rect x="269.39" y="449.50" width="3.9" height="3.60" fill="#5aaad6" stroke="#2a66a6" stroke-width="0.8"/>
<rect x="273.30" y="449.50" width="3.9" height="2.80" fill="#5aaad6" stroke="#2a66a6" stroke-width="0.8"/>
<rect x="277.21" y="449.50" width="3.9" height="0.70" fill="#5aaad6" stroke="#2a66a6" stroke-width="0.8"/>
<rect x="281.13" y="449.50" width="3.9" height="0.60" fill="#5aaad6" stroke="#2a66a6" stroke-width="0.8"/>
<rect x="285.04" y="448.90" width="3.9" height="0.60" fill="#5aaad6" stroke="#2a66a6" stroke-width="0.8"/>
<rect x="288.95" y="448.50" width="3.9" height="1.00" fill="#5aaad6" stroke="#2a66a6" stroke-width="0.8"/>
<rect x="292.87" y="448.50" width="3.9" height="1.00" fill="#5aaad6" stroke="#2a66a6" stroke-width="0.8"/>
<rect x="296.78" y="447.50" width="3.9" height="2.00" fill="#5aaad6" stroke="#2a66a6" stroke-width="0.8"/>
<rect x="300.69" y="447.50" width="3.9" height="2.00" fill="#5aaad6" stroke="#2a66a6" stroke-width="0.8"/>
<rect x="304.61" y="446.30" width="3.9" height="3.20" fill="#5aaad6" stroke="#2a66a6" stroke-width="0.8"/>
<rect x="308.52" y="447.50" width="3.9" height="2.00" fill="#5aaad6" stroke="#2a66a6" stroke-width="0.8"/>
<rect x="312.43" y="449.50" width="3.9" height="0.70" fill="#5aaad6" stroke="#2a66a6" stroke-width="0.8"/>
<rect x="316.35" y="449.50" width="3.9" height="1.90" fill="#5aaad6" stroke="#2a66a6" stroke-width="0.8"/>
<rect x="320.26" y="449.50" width="3.9" height="4.50" fill="#5aaad6" stroke="#2a66a6" stroke-width="0.8"/>
<rect x="324.18" y="449.50" width="3.9" height="7.10" fill="#5aaad6" stroke="#2a66a6" stroke-width="0.8"/>
<rect x="328.09" y="449.50" width="3.9" height="7.60" fill="#5aaad6" stroke="#2a66a6" stroke-width="0.8"/>
<rect x="332.00" y="449.50" width="3.9" height="7.60" fill="#5aaad6" stroke="#2a66a6" stroke-width="0.8"/>
<rect x="335.92" y="449.50" width="3.9" height="7.10" fill="#5aaad6" stroke="#2a66a6" stroke-width="0.8"/>
<rect x="339.83" y="449.50" width="3.9" height="5.90" fill="#5aaad6" stroke="#2a66a6" stroke-width="0.8"/>
<rect x="343.74" y="449.50" width="3.9" height="7.90" fill="#5aaad6" stroke="#2a66a6" stroke-width="0.8"/>
<rect x="347.66" y="449.50" width="3.9" height="6.60" fill="#5aaad6" stroke="#2a66a6" stroke-width="0.8"/>
<rect x="351.57" y="449.50" width="3.9" height="6.60" fill="#5aaad6" stroke="#2a66a6" stroke-width="0.8"/>
<rect x="355.48" y="449.50" width="3.9" height="4.50" fill="#5aaad6" stroke="#2a66a6" stroke-width="0.8"/>
<rect x="359.40" y="449.50" width="3.9" height="2.80" fill="#5aaad6" stroke="#2a66a6" stroke-width="0.8"/>
<rect x="363.31" y="449.50" width="3.9" height="1.40" fill="#5aaad6" stroke="#2a66a6" stroke-width="0.8"/>
<rect x="367.22" y="449.50" width="3.9" height="0.70" fill="#5aaad6" stroke="#2a66a6" stroke-width="0.8"/>
<rect x="371.14" y="449.50" width="3.9" height="0.70" fill="#5aaad6" stroke="#2a66a6" stroke-width="0.8"/>
<rect x="375.05" y="449.50" width="3.9" height="0.70" fill="#5aaad6" stroke="#2a66a6" stroke-width="0.8"/>
<rect x="378.96" y="449.50" width="3.9" height="0.60" fill="#5aaad6" stroke="#2a66a6" stroke-width="0.8"/>
<rect x="382.88" y="448.50" width="3.9" height="1.00" fill="#5aaad6" stroke="#2a66a6" stroke-width="0.8"/>
<rect x="386.79" y="447.50" width="3.9" height="2.00" fill="#5aaad6" stroke="#2a66a6" stroke-width="0.8"/>
<rect x="390.70" y="446.30" width="3.9" height="3.20" fill="#5aaad6" stroke="#2a66a6" stroke-width="0.8"/>
<rect x="394.62" y="446.30" width="3.9" height="3.20" fill="#5aaad6" stroke="#2a66a6" stroke-width="0.8"/>
<rect x="398.53" y="445.40" width="3.9" height="4.10" fill="#5aaad6" stroke="#2a66a6" stroke-width="0.8"/>
<rect x="402.45" y="444.60" width="3.9" height="4.90" fill="#5aaad6" stroke="#2a66a6" stroke-width="0.8"/>
<rect x="406.36" y="444.60" width="3.9" height="4.90" fill="#5aaad6" stroke="#2a66a6" stroke-width="0.8"/>
<rect x="410.27" y="444.60" width="3.9" height="4.90" fill="#5aaad6" stroke="#2a66a6" stroke-width="0.8"/>
<rect x="414.19" y="443.40" width="3.9" height="6.10" fill="#5aaad6" stroke="#2a66a6" stroke-width="0.8"/>
<rect x="418.10" y="443.40" width="3.9" height="6.10" fill="#5aaad6" stroke="#2a66a6" stroke-width="0.8"/>
<rect x="422.01" y="445.10" width="3.9" height="4.40" fill="#5aaad6" stroke="#2a66a6" stroke-width="0.8"/>
<rect x="425.93" y="445.80" width="3.9" height="3.70" fill="#5aaad6" stroke="#2a66a6" stroke-width="0.8"/>
<rect x="429.84" y="445.80" width="3.9" height="3.70" fill="#5aaad6" stroke="#2a66a6" stroke-width="0.8"/>
<rect x="433.75" y="445.80" width="3.9" height="3.70" fill="#5aaad6" stroke="#2a66a6" stroke-width="0.8"/>
<rect x="437.67" y="445.80" width="3.9" height="3.70" fill="#5aaad6" stroke="#2a66a6" stroke-width="0.8"/>
<rect x="441.58" y="445.80" width="3.9" height="3.70" fill="#5aaad6" stroke="#2a66a6" stroke-width="0.8"/>
<rect x="445.49" y="445.80" width="3.9" height="3.70" fill="#5aaad6" stroke="#2a66a6" stroke-width="0.8"/>
<rect x="449.41" y="445.80" width="3.9" height="3.70" fill="#5aaad6" stroke="#2a66a6" stroke-width="0.8"/>
<rect x="453.32" y="445.80" width="3.9" height="3.70" fill="#5aaad6" stroke="#2a66a6" stroke-width="0.8"/>
<rect x="457.23" y="445.80" width="3.9" height="3.70" fill="#5aaad6" stroke="#2a66a6" stroke-width="0.8"/>
<rect x="461.15" y="446.80" width="3.9" height="2.70" fill="#5aaad6" stroke="#2a66a6" stroke-width="0.8"/>
<rect x="465.06" y="446.80" width="3.9" height="2.70" fill="#5aaad6" stroke="#2a66a6" stroke-width="0.8"/>
<rect x="468.98" y="446.80" width="3.9" height="2.70" fill="#5aaad6" stroke="#2a66a6" stroke-width="0.8"/>
<rect x="472.89" y="445.40" width="3.9" height="4.10" fill="#5aaad6" stroke="#2a66a6" stroke-width="0.8"/>
<rect x="476.80" y="446.80" width="3.9" height="2.70" fill="#5aaad6" stroke="#2a66a6" stroke-width="0.8"/>
<rect x="480.72" y="448.00" width="3.9" height="1.50" fill="#5aaad6" stroke="#2a66a6" stroke-width="0.8"/>
<rect x="484.63" y="449.40" width="3.9" height="0.60" fill="#5aaad6" stroke="#2a66a6" stroke-width="0.8"/>
<rect x="488.54" y="449.50" width="3.9" height="1.90" fill="#5aaad6" stroke="#2a66a6" stroke-width="0.8"/>
<rect x="492.46" y="449.50" width="3.9" height="1.90" fill="#5aaad6" stroke="#2a66a6" stroke-width="0.8"/>
<rect x="496.37" y="449.50" width="3.9" height="0.70" fill="#5aaad6" stroke="#2a66a6" stroke-width="0.8"/>
<rect x="500.28" y="449.50" width="3.9" height="0.70" fill="#5aaad6" stroke="#2a66a6" stroke-width="0.8"/>
<rect x="504.20" y="449.50" width="3.9" height="1.70" fill="#5aaad6" stroke="#2a66a6" stroke-width="0.8"/>
<rect x="508.11" y="449.50" width="3.9" height="0.70" fill="#5aaad6" stroke="#2a66a6" stroke-width="0.8"/>
<rect x="512.02" y="449.50" width="3.9" height="0.70" fill="#5aaad6" stroke="#2a66a6" stroke-width="0.8"/>
<rect x="515.94" y="449.50" width="3.9" height="0.60" fill="#5aaad6" stroke="#2a66a6" stroke-width="0.8"/>
<rect x="519.85" y="449.50" width="3.9" height="1.40" fill="#5aaad6" stroke="#2a66a6" stroke-width="0.8"/>
<rect x="523.76" y="449.50" width="3.9" height="1.40" fill="#5aaad6" stroke="#2a66a6" stroke-width="0.8"/>
<rect x="527.68" y="449.50" width="3.9" height="2.80" fill="#5aaad6" stroke="#2a66a6" stroke-width="0.8"/>
<rect x="531.59" y="449.50" width="3.9" height="4.20" fill="#5aaad6" stroke="#2a66a6" stroke-width="0.8"/>
<rect x="535.50" y="449.50" width="3.9" height="5.90" fill="#5aaad6" stroke="#2a66a6" stroke-width="0.8"/>
<rect x="539.42" y="449.50" width="3.9" height="6.60" fill="#5aaad6" stroke="#2a66a6" stroke-width="0.8"/>
<rect x="543.33" y="449.50" width="3.9" height="6.60" fill="#5aaad6" stroke="#2a66a6" stroke-width="0.8"/>
<rect x="547.25" y="449.50" width="3.9" height="3.60" fill="#5aaad6" stroke="#2a66a6" stroke-width="0.8"/>
<rect x="551.16" y="449.50" width="3.9" height="2.50" fill="#5aaad6" stroke="#2a66a6" stroke-width="0.8"/>
<rect x="555.07" y="449.50" width="3.9" height="2.50" fill="#5aaad6" stroke="#2a66a6" stroke-width="0.8"/>
<rect x="558.99" y="449.50" width="3.9" height="1.40" fill="#5aaad6" stroke="#2a66a6" stroke-width="0.8"/>
<rect x="562.90" y="449.50" width="3.9" height="2.80" fill="#5aaad6" stroke="#2a66a6" stroke-width="0.8"/>
<rect x="566.81" y="449.50" width="3.9" height="7.10" fill="#5aaad6" stroke="#2a66a6" stroke-width="0.8"/>
<rect x="570.73" y="449.50" width="3.9" height="8.80" fill="#5aaad6" stroke="#2a66a6" stroke-width="0.8"/>
<rect x="574.64" y="449.50" width="3.9" height="11.70" fill="#5aaad6" stroke="#2a66a6" stroke-width="0.8"/>
<rect x="578.55" y="449.50" width="3.9" height="11.70" fill="#5aaad6" stroke="#2a66a6" stroke-width="0.8"/>
<rect x="582.47" y="449.50" width="3.9" height="11.00" fill="#5aaad6" stroke="#2a66a6" stroke-width="0.8"/>
<rect x="586.38" y="449.50" width="3.9" height="11.00" fill="#5aaad6" stroke="#2a66a6" stroke-width="0.8"/>
<rect x="590.29" y="449.50" width="3.9" height="8.30" fill="#5aaad6" stroke="#2a66a6" stroke-width="0.8"/>
<rect x="594.21" y="449.50" width="3.9" height="8.30" fill="#5aaad6" stroke="#2a66a6" stroke-width="0.8"/>
<rect x="598.12" y="449.50" width="3.9" height="7.80" fill="#5aaad6" stroke="#2a66a6" stroke-width="0.8"/>
<rect x="602.03" y="449.50" width="3.9" height="6.60" fill="#5aaad6" stroke="#2a66a6" stroke-width="0.8"/>
<rect x="605.95" y="449.50" width="3.9" height="2.80" fill="#5aaad6" stroke="#2a66a6" stroke-width="0.8"/>
<rect x="609.86" y="449.40" width="3.9" height="0.60" fill="#5aaad6" stroke="#2a66a6" stroke-width="0.8"/>
<rect x="613.77" y="445.40" width="3.9" height="4.10" fill="#5aaad6" stroke="#2a66a6" stroke-width="0.8"/>
<rect x="617.69" y="444.60" width="3.9" height="4.90" fill="#5aaad6" stroke="#2a66a6" stroke-width="0.8"/>
<rect x="621.60" y="443.40" width="3.9" height="6.10" fill="#5aaad6" stroke="#2a66a6" stroke-width="0.8"/>
<rect x="625.51" y="445.40" width="3.9" height="4.10" fill="#5aaad6" stroke="#2a66a6" stroke-width="0.8"/>
<rect x="629.43" y="447.50" width="3.9" height="2.00" fill="#5aaad6" stroke="#2a66a6" stroke-width="0.8"/>
<rect x="633.34" y="446.80" width="3.9" height="2.70" fill="#5aaad6" stroke="#2a66a6" stroke-width="0.8"/>
<rect x="637.26" y="445.80" width="3.9" height="3.70" fill="#5aaad6" stroke="#2a66a6" stroke-width="0.8"/>
<rect x="641.17" y="447.50" width="3.9" height="2.00" fill="#5aaad6" stroke="#2a66a6" stroke-width="0.8"/>
<rect x="645.08" y="445.80" width="3.9" height="3.70" fill="#5aaad6" stroke="#2a66a6" stroke-width="0.8"/>
<rect x="649.00" y="445.40" width="3.9" height="4.10" fill="#5aaad6" stroke="#2a66a6" stroke-width="0.8"/>
<polyline points="38.00,507.10 55.10,502.90 72.30,500.00 82.60,500.30 89.40,497.70 98.00,491.40 110.00,481.10 120.30,472.00 130.60,464.60 140.90,458.30 147.70,455.40 158.00,449.70 165.30,445.10 175.60,440.30 185.90,436.00 199.60,431.70 206.40,430.30 220.00,429.50 235.00,429.00 259.60,430.50 272.00,432.60 282.30,434.80 294.30,434.30 306.30,432.10 314.90,431.40 321.70,433.80 337.10,440.30 347.40,445.80 354.30,448.90 368.00,450.60 378.30,452.00 389.00,451.40 394.10,450.90 406.10,446.30 423.30,440.00 440.40,436.00 457.60,431.40 474.70,427.40 485.00,425.70 491.90,426.90 500.40,427.40 509.00,428.60 516.30,429.10 531.70,430.90 545.40,436.50 557.40,438.90 567.70,441.10 578.00,448.90 588.30,455.40 603.70,463.40 610.90,463.40 624.60,459.10 634.90,457.10 650.30,454.30" fill="none" stroke="#f01414" stroke-width="1.2" stroke-linejoin="round"/>
<polyline points="38.00,506.30 44.00,502.30 48.30,501.10 55.10,500.30 60.30,497.20 63.70,496.50 68.90,497.70 75.70,502.00 80.90,500.60 87.70,495.10 96.30,484.00 103.10,476.00 110.00,467.40 116.90,462.90 123.70,457.40 130.60,452.00 137.40,449.70 146.00,450.20 151.10,446.30 155.00,444.60 161.90,439.40 172.10,434.30 184.10,430.30 200.00,426.00 220.00,424.00 240.00,426.00 256.10,430.30 263.00,435.10 268.10,437.70 277.10,437.20 289.10,433.40 297.70,431.40 306.30,429.10 310.60,429.70 314.90,433.80 320.00,438.20 323.40,441.10 330.30,445.80 337.10,447.50 342.30,449.70 345.70,453.10 352.60,454.00 361.10,452.30 365.40,451.40 371.40,452.60 376.60,454.30 381.70,452.30 389.00,450.20 399.30,444.60 409.60,440.00 416.40,436.90 425.00,435.10 431.90,434.30 440.40,432.10 450.70,429.70 454.10,427.40 461.00,426.90 473.00,424.50 481.60,424.50 486.70,425.70 491.00,428.30 498.70,428.60 505.60,430.30 512.90,429.70 523.10,431.70 531.70,434.30 540.30,440.30 545.40,443.40 552.30,441.70 557.40,442.30 562.60,442.00 567.70,447.10 574.60,457.40 581.40,462.60 588.30,466.30 591.70,466.00 600.60,469.10 604.00,468.60 610.90,462.90 616.00,458.30 624.60,454.30 629.70,456.10 638.30,453.10 645.10,451.40 651.10,448.50" fill="none" stroke="#000" stroke-width="2.0" stroke-linejoin="round"/>
<g shape-rendering="crispEdges" fill="none" stroke="#a8a8a8">
<rect x="38.5" y="29.5" width="618" height="97"/>
<rect x="38.5" y="126.5" width="618" height="276"/>
<rect x="38.5" y="417.5" width="618" height="97"/>
</g>
<rect x="39" y="30" width="94" height="12" fill="#fff"/>
<path d="M41.5,39.8 L43,34.5 L45.5,31.5 L46.5,35.5 L49.5,33.5 L49.5,39.8 Z" fill="#6f9f6f" stroke="#000" stroke-width="1"/>
<text x="54" y="40" font-size="9.2" font-weight="normal" fill="#000" text-anchor="start" textLength="78" lengthAdjust="spacingAndGlyphs">RSI(14) 52.74</text>
<rect x="39" y="127" width="147" height="11" fill="#fff"/>
<rect x="39" y="138" width="82" height="11" fill="#fff"/>
<rect x="39" y="149" width="108" height="10" fill="#fff"/>
<path d="M42.5,129.5V136.5M41,131H42.5M42.5,134.5H44M47,130.5V137.5M45.5,135.5H47M47,132H48.5" stroke="#000" stroke-width="1.1" fill="none"/>
<text x="53.6" y="136.3" font-size="9.2" font-weight="normal" fill="#000" text-anchor="start" textLength="131.5" lengthAdjust="spacingAndGlyphs">$SPX (Weekly) 1260.26</text>
<rect x="41" y="142.6" width="8.5" height="2.2" fill="#1f1f9a"/>
<text x="51.4" y="147.2" font-size="9.2" font-weight="normal" fill="#1f1f9a" text-anchor="start" textLength="68.6" lengthAdjust="spacingAndGlyphs">MA(50) 1267.65</text>
<path d="M41.5,158V152.5M43.5,158V150.5M45.5,158V151.5M47.5,158V149.5M49.5,158V152" stroke="#666" stroke-width="1.6" fill="none"/>
<text x="51.4" y="157.4" font-size="9.2" font-weight="normal" fill="#555" text-anchor="start" textLength="94.6" lengthAdjust="spacingAndGlyphs">Volume 4,763,752,448</text>
<rect x="39" y="418" width="226" height="12" fill="#fff"/>
<rect x="40.6" y="422.6" width="9.4" height="2.6" fill="#000"/>
<text x="53.8" y="428" font-size="9.2" font-weight="normal" fill="#000" text-anchor="start" textLength="83.3" lengthAdjust="spacingAndGlyphs">MACD(12,26,9)</text>
<text x="142.6" y="428" font-size="9.2" font-weight="normal" fill="#000" text-anchor="start" textLength="35.4" lengthAdjust="spacingAndGlyphs">-0.315</text>
<text x="178.5" y="428" font-size="9.2" font-weight="normal" fill="#f01414" text-anchor="start" textLength="44.5" lengthAdjust="spacingAndGlyphs">, -8.492</text>
<text x="223.5" y="428" font-size="9.2" font-weight="normal" fill="#3399cc" text-anchor="start" textLength="39.5" lengthAdjust="spacingAndGlyphs">, 8.178</text>
<text x="659.7" y="47.9" font-size="10.3" font-weight="normal" fill="#000" text-anchor="start" textLength="11.2" lengthAdjust="spacingAndGlyphs">90</text>
<text x="659.7" y="63.9" font-size="10.3" font-weight="normal" fill="#000" text-anchor="start" textLength="11.2" lengthAdjust="spacingAndGlyphs">70</text>
<text x="659.7" y="97.9" font-size="10.3" font-weight="normal" fill="#000" text-anchor="start" textLength="11.2" lengthAdjust="spacingAndGlyphs">30</text>
<text x="659.7" y="113.9" font-size="10.3" font-weight="normal" fill="#000" text-anchor="start" textLength="11.2" lengthAdjust="spacingAndGlyphs">10</text>
<path d="M654.6,75.5 L657.6,70.5 H687.7 V80.7 H657.6 Z" fill="#fff" stroke="#2e6b2e" stroke-width="1.1"/>
<text x="658.6" y="79.2" font-size="9.5" font-weight="normal" fill="#000" text-anchor="start" textLength="27.5" lengthAdjust="spacingAndGlyphs">52.74</text>
<text x="661" y="141.9" font-size="10.3" font-weight="normal" fill="#000" text-anchor="start" textLength="22" lengthAdjust="spacingAndGlyphs">1350</text>
<text x="661" y="155.6" font-size="10.3" font-weight="normal" fill="#000" text-anchor="start" textLength="22" lengthAdjust="spacingAndGlyphs">1300</text>
<text x="661" y="184.7" font-size="10.3" font-weight="normal" fill="#000" text-anchor="start" textLength="22" lengthAdjust="spacingAndGlyphs">1200</text>
<text x="661" y="200.2" font-size="10.3" font-weight="normal" fill="#000" text-anchor="start" textLength="22" lengthAdjust="spacingAndGlyphs">1150</text>
<text x="661" y="216.4" font-size="10.3" font-weight="normal" fill="#000" text-anchor="start" textLength="22" lengthAdjust="spacingAndGlyphs">1100</text>
<text x="661" y="233.3" font-size="10.3" font-weight="normal" fill="#000" text-anchor="start" textLength="22" lengthAdjust="spacingAndGlyphs">1050</text>
<text x="661" y="251.0" font-size="10.3" font-weight="normal" fill="#000" text-anchor="start" textLength="22" lengthAdjust="spacingAndGlyphs">1000</text>
<text x="666" y="269.7" font-size="10.3" font-weight="normal" fill="#000" text-anchor="start" textLength="17" lengthAdjust="spacingAndGlyphs">950</text>
<text x="666" y="289.3" font-size="10.3" font-weight="normal" fill="#000" text-anchor="start" textLength="17" lengthAdjust="spacingAndGlyphs">900</text>
<text x="666" y="310.1" font-size="10.3" font-weight="normal" fill="#000" text-anchor="start" textLength="17" lengthAdjust="spacingAndGlyphs">850</text>
<text x="666" y="332.2" font-size="10.3" font-weight="normal" fill="#000" text-anchor="start" textLength="17" lengthAdjust="spacingAndGlyphs">800</text>
<text x="666" y="355.6" font-size="10.3" font-weight="normal" fill="#000" text-anchor="start" textLength="17" lengthAdjust="spacingAndGlyphs">750</text>
<text x="666" y="380.7" font-size="10.3" font-weight="normal" fill="#000" text-anchor="start" textLength="17" lengthAdjust="spacingAndGlyphs">700</text>
<path d="M654,161.6 L658.2,156.6 H700 V171.5 H658.2 V163" fill="#fff" stroke="#1f1f9a" stroke-width="1.1"/>
<clipPath id="maclip"><rect x="650" y="168.6" width="50" height="3"/></clipPath>
<rect x="657.5" y="168.7" width="43" height="3.5" fill="#fff"/>
<text x="663" y="170.1" font-size="10.5" font-weight="bold" fill="#000" text-anchor="start" textLength="36" lengthAdjust="spacingAndGlyphs" clip-path="url(#maclip)">1267.65</text>
<path d="M654,163.3 L658.5,158.5 H699.3 V168.1 H658.5 Z" fill="#fff" stroke="#000" stroke-width="1.1"/>
<text x="659.2" y="166.4" font-size="10" font-weight="bold" fill="#000" text-anchor="start" textLength="38.1" lengthAdjust="spacingAndGlyphs">1260.26</text>
<text x="17" y="316.9" font-size="9.5" font-weight="normal" fill="#000" text-anchor="start" textLength="18.4" lengthAdjust="spacingAndGlyphs">40B</text>
<line x1="36" y1="313.5" x2="38" y2="313.5" stroke="#999" stroke-width="1"/>
<text x="17" y="338.1" font-size="9.5" font-weight="normal" fill="#000" text-anchor="start" textLength="18.4" lengthAdjust="spacingAndGlyphs">30B</text>
<line x1="36" y1="334.7" x2="38" y2="334.7" stroke="#999" stroke-width="1"/>
<text x="17" y="359.8" font-size="9.5" font-weight="normal" fill="#000" text-anchor="start" textLength="18.4" lengthAdjust="spacingAndGlyphs">20B</text>
<line x1="36" y1="356.4" x2="38" y2="356.4" stroke="#999" stroke-width="1"/>
<text x="17" y="381.6" font-size="9.5" font-weight="normal" fill="#000" text-anchor="start" textLength="18.4" lengthAdjust="spacingAndGlyphs">10B</text>
<line x1="36" y1="378.2" x2="38" y2="378.2" stroke="#999" stroke-width="1"/>
<path d="M654.3,390.3 L657.6,385.6 H700 V395.6 H657.6 Z" fill="#fff" stroke="#444" stroke-width="1.1"/>
<text x="659" y="393.7" font-size="9.5" font-weight="normal" fill="#000" text-anchor="start" textLength="41" lengthAdjust="spacingAndGlyphs">4763752</text>
<text x="680" y="427.3" font-size="9.5" font-weight="normal" fill="#000" text-anchor="end" textLength="11.2" lengthAdjust="spacingAndGlyphs">50</text>
<text x="680" y="479.3" font-size="9.5" font-weight="normal" fill="#000" text-anchor="end" textLength="14" lengthAdjust="spacingAndGlyphs">-50</text>
<text x="680.5" y="505.5" font-size="9.5" font-weight="normal" fill="#000" text-anchor="end" textLength="20" lengthAdjust="spacingAndGlyphs">-100</text>
<path d="M654.6,445.4 L658,440.3 H687.7 V450 H658 Z" fill="#fff" stroke="#3399cc" stroke-width="1.1"/>
<text x="659.5" y="448.6" font-size="9.5" font-weight="normal" fill="#000" text-anchor="start" textLength="26" lengthAdjust="spacingAndGlyphs">8.178</text>
<path d="M654,454 L658,459.1 H690.6 V449 H658 Z" fill="#fff" stroke="#f01414" stroke-width="1.1"/>
<text x="659.5" y="458" font-size="9.5" font-weight="normal" fill="#000" text-anchor="start" textLength="30" lengthAdjust="spacingAndGlyphs">-8.492</text>
<path d="M654.5,448.7 L658.5,442.5 H690.6 V454.7 H658.5 Z" fill="#fff" stroke="#000" stroke-width="1.1"/>
<text x="659.3" y="452.6" font-size="10" font-weight="normal" fill="#000" text-anchor="start" textLength="30.5" lengthAdjust="spacingAndGlyphs">-0.315</text>
<g shape-rendering="crispEdges" stroke="#b0b0b0">
<line x1="656" y1="123.5" x2="658" y2="123.5"/>
<line x1="656" y1="119.5" x2="659" y2="119.5"/>
<line x1="656" y1="115.5" x2="658" y2="115.5"/>
<line x1="656" y1="111.5" x2="659" y2="111.5"/>
<line x1="656" y1="107.5" x2="658" y2="107.5"/>
<line x1="656" y1="102.5" x2="659" y2="102.5"/>
<line x1="656" y1="98.5" x2="658" y2="98.5"/>
<line x1="656" y1="94.5" x2="659" y2="94.5"/>
<line x1="656" y1="90.5" x2="658" y2="90.5"/>
<line x1="656" y1="86.5" x2="659" y2="86.5"/>
<line x1="656" y1="82.5" x2="658" y2="82.5"/>
<line x1="656" y1="78.5" x2="659" y2="78.5"/>
<line x1="656" y1="73.5" x2="658" y2="73.5"/>
<line x1="656" y1="69.5" x2="659" y2="69.5"/>
<line x1="656" y1="65.5" x2="658" y2="65.5"/>
<line x1="656" y1="61.5" x2="659" y2="61.5"/>
<line x1="656" y1="57.5" x2="658" y2="57.5"/>
<line x1="656" y1="53.5" x2="659" y2="53.5"/>
<line x1="656" y1="49.5" x2="658" y2="49.5"/>
<line x1="656" y1="45.5" x2="659" y2="45.5"/>
<line x1="656" y1="40.5" x2="658" y2="40.5"/>
<line x1="656" y1="36.5" x2="659" y2="36.5"/>
<line x1="656" y1="32.5" x2="658" y2="32.5"/>
<line x1="656" y1="382.5" x2="658" y2="382.5"/>
<line x1="656" y1="377.5" x2="659" y2="377.5"/>
<line x1="656" y1="372.5" x2="658" y2="372.5"/>
<line x1="656" y1="367.5" x2="658" y2="367.5"/>
<line x1="656" y1="362.5" x2="658" y2="362.5"/>
<line x1="656" y1="357.5" x2="658" y2="357.5"/>
<line x1="656" y1="352.5" x2="659" y2="352.5"/>
<line x1="656" y1="347.5" x2="658" y2="347.5"/>
<line x1="656" y1="342.5" x2="658" y2="342.5"/>
<line x1="656" y1="337.5" x2="658" y2="337.5"/>
<line x1="656" y1="333.5" x2="658" y2="333.5"/>
<line x1="656" y1="328.5" x2="659" y2="328.5"/>
<line x1="656" y1="324.5" x2="658" y2="324.5"/>
<line x1="656" y1="319.5" x2="658" y2="319.5"/>
<line x1="656" y1="315.5" x2="658" y2="315.5"/>
<line x1="656" y1="311.5" x2="658" y2="311.5"/>
<line x1="656" y1="306.5" x2="659" y2="306.5"/>
<line x1="656" y1="302.5" x2="658" y2="302.5"/>
<line x1="656" y1="298.5" x2="658" y2="298.5"/>
<line x1="656" y1="294.5" x2="658" y2="294.5"/>
<line x1="656" y1="289.5" x2="658" y2="289.5"/>
<line x1="656" y1="285.5" x2="659" y2="285.5"/>
<line x1="656" y1="281.5" x2="658" y2="281.5"/>
<line x1="656" y1="277.5" x2="658" y2="277.5"/>
<line x1="656" y1="274.5" x2="658" y2="274.5"/>
<line x1="656" y1="270.5" x2="658" y2="270.5"/>
<line x1="656" y1="266.5" x2="659" y2="266.5"/>
<line x1="656" y1="262.5" x2="658" y2="262.5"/>
<line x1="656" y1="258.5" x2="658" y2="258.5"/>
<line x1="656" y1="254.5" x2="658" y2="254.5"/>
<line x1="656" y1="251.5" x2="658" y2="251.5"/>
<line x1="656" y1="247.5" x2="659" y2="247.5"/>
<line x1="656" y1="244.5" x2="658" y2="244.5"/>
<line x1="656" y1="240.5" x2="658" y2="240.5"/>
<line x1="656" y1="236.5" x2="658" y2="236.5"/>
<line x1="656" y1="233.5" x2="658" y2="233.5"/>
<line x1="656" y1="229.5" x2="659" y2="229.5"/>
<line x1="656" y1="226.5" x2="658" y2="226.5"/>
<line x1="656" y1="223.5" x2="658" y2="223.5"/>
<line x1="656" y1="219.5" x2="658" y2="219.5"/>
<line x1="656" y1="216.5" x2="658" y2="216.5"/>
<line x1="656" y1="212.5" x2="659" y2="212.5"/>
<line x1="656" y1="209.5" x2="658" y2="209.5"/>
<line x1="656" y1="206.5" x2="658" y2="206.5"/>
<line x1="656" y1="203.5" x2="658" y2="203.5"/>
<line x1="656" y1="199.5" x2="658" y2="199.5"/>
<line x1="656" y1="196.5" x2="659" y2="196.5"/>
<line x1="656" y1="193.5" x2="658" y2="193.5"/>
<line x1="656" y1="190.5" x2="658" y2="190.5"/>
<line x1="656" y1="187.5" x2="658" y2="187.5"/>
<line x1="656" y1="184.5" x2="658" y2="184.5"/>
<line x1="656" y1="181.5" x2="659" y2="181.5"/>
<line x1="656" y1="178.5" x2="658" y2="178.5"/>
<line x1="656" y1="175.5" x2="658" y2="175.5"/>
<line x1="656" y1="172.5" x2="658" y2="172.5"/>
<line x1="656" y1="169.5" x2="658" y2="169.5"/>
<line x1="656" y1="166.5" x2="659" y2="166.5"/>
<line x1="656" y1="163.5" x2="658" y2="163.5"/>
<line x1="656" y1="160.5" x2="658" y2="160.5"/>
<line x1="656" y1="157.5" x2="658" y2="157.5"/>
<line x1="656" y1="155.5" x2="658" y2="155.5"/>
<line x1="656" y1="152.5" x2="659" y2="152.5"/>
<line x1="656" y1="149.5" x2="658" y2="149.5"/>
<line x1="656" y1="146.5" x2="658" y2="146.5"/>
<line x1="656" y1="143.5" x2="658" y2="143.5"/>
<line x1="656" y1="141.5" x2="658" y2="141.5"/>
<line x1="656" y1="138.5" x2="659" y2="138.5"/>
<line x1="656" y1="135.5" x2="658" y2="135.5"/>
<line x1="656" y1="133.5" x2="658" y2="133.5"/>
<line x1="656" y1="130.5" x2="658" y2="130.5"/>
<line x1="656" y1="127.5" x2="658" y2="127.5"/>
<line x1="656" y1="511.5" x2="658" y2="511.5"/>
<line x1="656" y1="506.5" x2="658" y2="506.5"/>
<line x1="656" y1="501.5" x2="659" y2="501.5"/>
<line x1="656" y1="496.5" x2="658" y2="496.5"/>
<line x1="656" y1="491.5" x2="658" y2="491.5"/>
<line x1="656" y1="485.5" x2="658" y2="485.5"/>
<line x1="656" y1="480.5" x2="658" y2="480.5"/>
<line x1="656" y1="475.5" x2="659" y2="475.5"/>
<line x1="656" y1="470.5" x2="658" y2="470.5"/>
<line x1="656" y1="465.5" x2="658" y2="465.5"/>
<line x1="656" y1="459.5" x2="658" y2="459.5"/>
<line x1="656" y1="454.5" x2="658" y2="454.5"/>
<line x1="656" y1="449.5" x2="659" y2="449.5"/>
<line x1="656" y1="444.5" x2="658" y2="444.5"/>
<line x1="656" y1="439.5" x2="658" y2="439.5"/>
<line x1="656" y1="433.5" x2="658" y2="433.5"/>
<line x1="656" y1="428.5" x2="658" y2="428.5"/>
<line x1="656" y1="423.5" x2="659" y2="423.5"/>
<line x1="656" y1="418.5" x2="658" y2="418.5"/>
</g>
</svg>
</body></html>
